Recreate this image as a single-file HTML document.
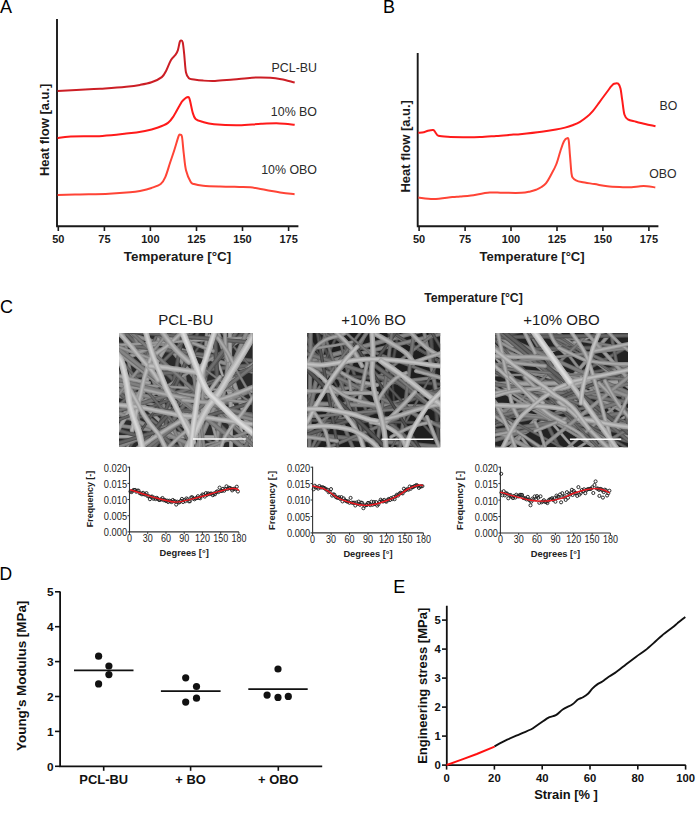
<!DOCTYPE html>
<html><head><meta charset="utf-8"><style>
html,body{margin:0;padding:0;background:#fff;}
body{width:696px;height:814px;overflow:hidden;}
svg{display:block;font-family:"Liberation Sans", sans-serif;}
</style></head><body>
<svg width="696" height="814" viewBox="0 0 696 814">
<text x="0" y="12.5" font-size="18">A</text>
<path d="M57,19 V226.3 M56.1,226.3 H298.4" stroke="#1a1a1a" stroke-width="1.9" fill="none"/>
<path d="M58.3,226.3 V231" stroke="#1a1a1a" stroke-width="1.6"/>
<text x="58.3" y="243" font-size="11" font-weight="bold" text-anchor="middle" fill="#1a1a1a">50</text>
<path d="M104.4,226.3 V231" stroke="#1a1a1a" stroke-width="1.6"/>
<text x="104.4" y="243" font-size="11" font-weight="bold" text-anchor="middle" fill="#1a1a1a">75</text>
<path d="M150.4,226.3 V231" stroke="#1a1a1a" stroke-width="1.6"/>
<text x="150.4" y="243" font-size="11" font-weight="bold" text-anchor="middle" fill="#1a1a1a">100</text>
<path d="M196.5,226.3 V231" stroke="#1a1a1a" stroke-width="1.6"/>
<text x="196.5" y="243" font-size="11" font-weight="bold" text-anchor="middle" fill="#1a1a1a">125</text>
<path d="M242.5,226.3 V231" stroke="#1a1a1a" stroke-width="1.6"/>
<text x="242.5" y="243" font-size="11" font-weight="bold" text-anchor="middle" fill="#1a1a1a">150</text>
<path d="M288.6,226.3 V231" stroke="#1a1a1a" stroke-width="1.6"/>
<text x="288.6" y="243" font-size="11" font-weight="bold" text-anchor="middle" fill="#1a1a1a">175</text>
<text x="123.8" y="261.3" font-size="13.35" font-weight="bold" fill="#1a1a1a">Temperature [°C]</text>
<text transform="translate(49.3,129.8) rotate(-90)" font-size="13" font-weight="bold" text-anchor="middle" fill="#1a1a1a">Heat flow [a.u.]</text>
<path d="M57.6,90.9 C63.6,90.6 85.9,89.5 93.8,89.1 C101.7,88.7 99.6,89.0 105.0,88.6 C110.4,88.2 120.4,87.4 126.2,86.8 C132.0,86.2 135.8,85.7 140.0,84.9 C144.2,84.2 147.9,83.6 151.5,82.3 C155.1,81.0 159.3,79.1 161.8,77.1 C164.3,75.1 164.9,73.1 166.4,70.2 C167.9,67.3 169.5,62.5 171.0,59.9 C172.5,57.3 174.4,56.3 175.6,54.7 C176.8,53.1 177.2,52.2 177.9,50.1 C178.6,48.0 179.2,43.7 179.7,42.1 C180.2,40.5 180.6,40.5 181.1,40.6 C181.6,40.7 182.3,40.2 182.8,42.6 C183.3,45.0 183.8,50.3 184.3,55.3 C184.8,60.3 185.2,68.7 186.0,72.5 C186.8,76.3 187.6,77.1 188.9,78.3 C190.2,79.5 191.6,79.0 194.0,79.4 C196.4,79.8 199.7,80.3 203.2,80.6 C206.7,80.9 210.0,81.2 215.0,81.0 C220.0,80.8 227.2,80.0 233.4,79.5 C239.6,79.0 245.7,78.0 251.9,77.7 C258.1,77.4 265.5,77.5 270.4,77.7 C275.3,78.0 277.3,78.4 281.4,79.2 C285.4,80.0 292.5,82.0 294.7,82.5" stroke="#cc1e25" stroke-width="2" fill="none"/>
<path d="M57.6,138.0 C59.8,137.7 63.3,136.8 70.8,136.4 C78.3,136.1 93.2,136.4 102.4,135.9 C111.6,135.4 119.1,134.4 126.2,133.6 C133.3,132.8 139.7,131.9 145.0,130.9 C150.3,129.9 154.2,128.8 158.0,127.5 C161.8,126.2 165.4,124.8 168.0,122.9 C170.6,121.0 171.8,118.9 173.7,116.0 C175.6,113.1 178.0,108.3 179.5,105.7 C181.0,103.1 181.5,101.9 182.9,100.5 C184.3,99.1 186.9,97.2 188.1,97.1 C189.2,97.0 189.0,97.3 189.8,99.9 C190.6,102.5 191.7,109.4 192.7,112.6 C193.7,115.8 194.0,117.4 195.6,118.9 C197.2,120.4 199.4,120.9 202.5,121.8 C205.6,122.7 207.9,123.6 214.0,124.2 C220.1,124.8 231.2,125.4 239.0,125.3 C246.8,125.2 254.3,124.1 261.1,123.8 C267.9,123.5 274.0,123.2 279.6,123.4 C285.2,123.6 292.2,124.5 294.7,124.7" stroke="#ff1a1a" stroke-width="2" fill="none"/>
<path d="M57.6,194.9 C61.3,194.8 71.4,194.7 80.0,194.5 C88.6,194.3 100.7,194.2 109.0,193.8 C117.3,193.4 124.8,192.8 130.0,192.3 C135.2,191.8 136.4,191.6 140.0,190.9 C143.6,190.2 148.1,189.2 151.5,188.0 C154.9,186.8 158.4,185.8 160.7,184.0 C163.0,182.2 163.8,180.5 165.3,177.1 C166.8,173.7 168.4,167.9 169.9,163.3 C171.4,158.7 173.1,154.0 174.5,149.5 C175.9,145.0 177.6,138.8 178.5,136.3 C179.4,133.9 179.6,134.7 180.2,134.8 C180.8,134.9 181.4,133.9 182.0,136.9 C182.6,139.9 183.0,147.4 183.7,153.0 C184.4,158.6 184.8,165.4 186.0,170.2 C187.2,175.0 189.3,179.4 190.6,181.7 C191.9,184.0 191.9,183.3 194.0,184.0 C196.1,184.7 198.9,185.3 203.2,185.7 C207.5,186.1 214.0,186.3 220.0,186.5 C226.0,186.7 234.2,186.8 239.3,186.9 C244.4,187.0 245.8,186.8 250.3,187.3 C254.8,187.8 260.8,189.1 266.1,190.0 C271.4,190.9 277.1,192.0 281.9,192.7 C286.6,193.4 292.5,194.0 294.6,194.3" stroke="#ff4436" stroke-width="2" fill="none"/>
<text x="317" y="71.8" font-size="12.4" text-anchor="end" fill="#2a2a2a">PCL-BU</text>
<text x="317" y="116" font-size="12.4" text-anchor="end" fill="#2a2a2a">10% BO</text>
<text x="317" y="174.3" font-size="12.4" text-anchor="end" fill="#2a2a2a">10% OBO</text>
<text x="382.9" y="12.5" font-size="18">B</text>
<path d="M417.7,53 V226.3 M416.8,226.3 H658.4" stroke="#1a1a1a" stroke-width="1.9" fill="none"/>
<path d="M419.1,226.3 V231" stroke="#1a1a1a" stroke-width="1.6"/>
<text x="419.1" y="243" font-size="11" font-weight="bold" text-anchor="middle" fill="#1a1a1a">50</text>
<path d="M465.1,226.3 V231" stroke="#1a1a1a" stroke-width="1.6"/>
<text x="465.1" y="243" font-size="11" font-weight="bold" text-anchor="middle" fill="#1a1a1a">75</text>
<path d="M511.0,226.3 V231" stroke="#1a1a1a" stroke-width="1.6"/>
<text x="511.0" y="243" font-size="11" font-weight="bold" text-anchor="middle" fill="#1a1a1a">100</text>
<path d="M557.0,226.3 V231" stroke="#1a1a1a" stroke-width="1.6"/>
<text x="557.0" y="243" font-size="11" font-weight="bold" text-anchor="middle" fill="#1a1a1a">125</text>
<path d="M602.9,226.3 V231" stroke="#1a1a1a" stroke-width="1.6"/>
<text x="602.9" y="243" font-size="11" font-weight="bold" text-anchor="middle" fill="#1a1a1a">150</text>
<path d="M648.9,226.3 V231" stroke="#1a1a1a" stroke-width="1.6"/>
<text x="648.9" y="243" font-size="11" font-weight="bold" text-anchor="middle" fill="#1a1a1a">175</text>
<text x="479.6" y="261.4" font-size="13.05" font-weight="bold" fill="#1a1a1a">Temperature [°C]</text>
<text transform="translate(410,146.3) rotate(-90)" font-size="13" font-weight="bold" text-anchor="middle" fill="#1a1a1a">Heat flow [a.u.]</text>
<path d="M418.3,132.8 C419.2,132.7 422.3,132.5 423.8,132.2 C425.3,131.9 425.6,131.4 427.2,131.0 C428.8,130.6 431.9,129.7 433.3,130.0 C434.8,130.3 435.0,132.2 435.9,133.1 C436.8,134.0 436.4,135.1 438.4,135.7 C440.4,136.3 443.5,136.5 447.9,136.8 C452.3,137.1 459.6,137.2 465.0,137.3 C470.4,137.4 474.8,137.3 480.0,137.1 C485.2,136.9 490.6,136.4 496.2,136.0 C501.8,135.6 509.4,134.9 513.4,134.6 C517.4,134.3 515.3,134.8 520.0,134.3 C524.7,133.8 535.6,132.6 541.6,131.8 C547.6,131.0 552.1,130.2 556.0,129.5 C559.9,128.8 562.2,128.3 565.0,127.6 C567.8,126.9 570.0,126.2 572.5,125.2 C575.0,124.2 577.6,123.2 580.0,121.8 C582.4,120.4 584.8,118.6 587.0,116.8 C589.2,115.0 591.0,113.1 593.0,110.8 C595.0,108.5 597.2,105.3 599.0,102.8 C600.8,100.3 602.5,98.0 604.0,96.0 C605.5,94.0 606.9,92.1 608.1,90.5 C609.3,88.9 610.3,87.3 611.3,86.2 C612.3,85.1 613.0,84.2 614.1,83.8 C615.2,83.4 617.1,82.8 618.2,83.6 C619.3,84.4 619.8,85.7 620.5,88.4 C621.2,91.1 621.5,95.5 622.2,99.9 C622.9,104.3 623.5,111.5 624.5,114.8 C625.5,118.0 626.0,118.2 627.9,119.4 C629.8,120.6 633.1,120.9 636.0,121.7 C638.9,122.5 642.0,123.2 645.2,124.0 C648.5,124.8 653.8,125.9 655.5,126.3" stroke="#ff1a1a" stroke-width="2" fill="none"/>
<path d="M418.3,197.6 C420.9,197.8 428.0,199.1 433.7,199.0 C439.4,198.9 448.0,197.5 452.4,197.1 C456.8,196.7 456.9,196.8 460.0,196.5 C463.1,196.2 466.1,196.2 471.0,195.5 C475.9,194.8 484.4,193.0 489.7,192.6 C495.0,192.2 497.5,192.8 502.8,192.8 C508.1,192.8 516.9,193.0 521.5,192.8 C526.1,192.6 527.8,192.0 530.3,191.5 C532.8,191.0 534.6,190.3 536.5,189.6 C538.4,188.8 539.9,188.0 541.5,187.0 C543.1,186.0 544.3,185.4 545.9,183.4 C547.5,181.4 549.3,178.0 551.0,174.8 C552.7,171.7 554.6,168.5 556.2,164.5 C557.8,160.5 559.2,154.6 560.5,150.7 C561.8,146.8 562.9,143.3 564.0,141.2 C565.1,139.1 566.2,138.3 567.0,138.2 C567.8,138.0 568.2,137.4 568.7,140.3 C569.2,143.2 569.5,150.4 570.0,155.9 C570.5,161.4 571.0,169.8 571.5,173.5 C572.0,177.2 572.2,176.9 573.0,178.0 C573.8,179.1 574.6,179.6 576.0,180.3 C577.4,181.0 578.5,181.4 581.6,182.0 C584.7,182.6 590.2,183.4 594.5,184.1 C598.8,184.8 602.7,185.8 607.4,186.3 C612.1,186.8 618.9,187.0 622.9,187.2 C626.9,187.3 628.7,187.4 631.6,187.2 C634.5,187.0 637.6,186.4 640.2,186.2 C642.8,186.0 644.5,186.0 647.0,186.2 C649.5,186.4 653.9,187.2 655.3,187.4" stroke="#ff4436" stroke-width="2" fill="none"/>
<text x="659.5" y="109.7" font-size="12.3" fill="#2a2a2a">BO</text>
<text x="649.3" y="177.6" font-size="12.3" fill="#2a2a2a">OBO</text>
<text x="424.2" y="301.9" font-size="12.25" font-weight="bold" fill="#1a1a1a">Temperature [°C]</text>
<text x="0" y="312.8" font-size="18">C</text>
<text x="185.8" y="324.8" font-size="15" text-anchor="middle" fill="#1a1a1a">PCL-BU</text>
<rect x="119" y="333" width="133.7" height="114.0" fill="#6a6a6a"/>
<text x="373.6" y="324.8" font-size="15" text-anchor="middle" fill="#1a1a1a">+10% BO</text>
<rect x="307.1" y="333" width="133.1" height="114.2" fill="#6a6a6a"/>
<text x="561.5" y="324.8" font-size="15" text-anchor="middle" fill="#1a1a1a">+10% OBO</text>
<rect x="495.1" y="333" width="132.9" height="114.2" fill="#6a6a6a"/>
<filter id="semblur" x="-5%" y="-5%" width="110%" height="110%"><feGaussianBlur stdDeviation="0.7"/></filter>
<clipPath id="semclip1"><rect x="119" y="333" width="133.7" height="114.0"/></clipPath>
<g clip-path="url(#semclip1)">
<rect x="119" y="333" width="133.7" height="114.0" fill="#2a2a2a"/>
<g filter="url(#semblur)" stroke-linecap="round" fill="none">
<path d="M164.0,240.6 L223.7,636.1" stroke="#6c6c6c" stroke-width="3.5"/>
<path d="M164.0,240.6 L223.7,636.1" stroke="#828282" stroke-width="1.8"/>
<path d="M197.9,198.8 L89.5,583.9" stroke="#838383" stroke-width="3.9"/>
<path d="M197.9,198.8 L89.5,583.9" stroke="#999999" stroke-width="2.0"/>
<path d="M-31.8,285.1 L350.9,401.6" stroke="#7b7b7b" stroke-width="4.3"/>
<path d="M-31.8,285.1 L350.9,401.6" stroke="#919191" stroke-width="2.3"/>
<path d="M52.0,416.7 L448.6,469.2" stroke="#757575" stroke-width="3.9"/>
<path d="M52.0,416.7 L448.6,469.2" stroke="#8b8b8b" stroke-width="2.1"/>
<path d="M-55.0,298.3 L297.0,488.2" stroke="#535353" stroke-width="2.6"/>
<path d="M-55.0,298.3 L297.0,488.2" stroke="#696969" stroke-width="1.3"/>
<path d="M-21.9,248.1 L268.0,523.7" stroke="#878787" stroke-width="3.5"/>
<path d="M-21.9,248.1 L268.0,523.7" stroke="#9d9d9d" stroke-width="1.8"/>
<path d="M216.6,190.3 L192.6,589.6" stroke="#686868" stroke-width="4.0"/>
<path d="M216.6,190.3 L192.6,589.6" stroke="#7e7e7e" stroke-width="2.1"/>
<path d="M124.0,293.1 L380.8,599.9" stroke="#7c7c7c" stroke-width="4.3"/>
<path d="M124.0,293.1 L380.8,599.9" stroke="#929292" stroke-width="2.3"/>
<path d="M40.0,198.7 L259.4,533.2" stroke="#818181" stroke-width="2.7"/>
<path d="M40.0,198.7 L259.4,533.2" stroke="#979797" stroke-width="1.3"/>
<path d="M170.6,186.8 L293.8,567.4" stroke="#878787" stroke-width="4.6"/>
<path d="M170.6,186.8 L293.8,567.4" stroke="#9d9d9d" stroke-width="2.5"/>
<path d="M-53.0,436.4 L347.0,437.1" stroke="#929292" stroke-width="3.5"/>
<path d="M-53.0,436.4 L347.0,437.1" stroke="#a8a8a8" stroke-width="1.8"/>
<path d="M65.4,215.1 L192.1,594.5" stroke="#595959" stroke-width="4.2"/>
<path d="M65.4,215.1 L192.1,594.5" stroke="#6f6f6f" stroke-width="2.2"/>
<path d="M-29.1,388.8 L356.0,497.0" stroke="#4d4d4d" stroke-width="4.2"/>
<path d="M-29.1,388.8 L356.0,497.0" stroke="#636363" stroke-width="2.2"/>
<path d="M-10.5,200.0 L275.5,479.6" stroke="#525252" stroke-width="4.3"/>
<path d="M-10.5,200.0 L275.5,479.6" stroke="#686868" stroke-width="2.3"/>
<path d="M215.9,158.2 L141.8,551.3" stroke="#4e4e4e" stroke-width="4.1"/>
<path d="M215.9,158.2 L141.8,551.3" stroke="#646464" stroke-width="2.2"/>
<path d="M221.8,201.0 L47.3,560.9" stroke="#595959" stroke-width="3.0"/>
<path d="M221.8,201.0 L47.3,560.9" stroke="#6f6f6f" stroke-width="1.5"/>
<path d="M425.6,349.4 L27.2,385.9" stroke="#545454" stroke-width="4.4"/>
<path d="M425.6,349.4 L27.2,385.9" stroke="#6a6a6a" stroke-width="2.4"/>
<path d="M168.0,217.1 L298.4,595.2" stroke="#939393" stroke-width="2.7"/>
<path d="M168.0,217.1 L298.4,595.2" stroke="#a9a9a9" stroke-width="1.3"/>
<path d="M-3.2,296.9 L310.3,545.3" stroke="#5b5b5b" stroke-width="3.2"/>
<path d="M-3.2,296.9 L310.3,545.3" stroke="#717171" stroke-width="1.6"/>
<path d="M-63.7,353.7 L325.8,445.1" stroke="#747474" stroke-width="3.0"/>
<path d="M-63.7,353.7 L325.8,445.1" stroke="#8a8a8a" stroke-width="1.5"/>
<path d="M101.1,258.4 L258.0,626.3" stroke="#717171" stroke-width="3.6"/>
<path d="M101.1,258.4 L258.0,626.3" stroke="#878787" stroke-width="1.8"/>
<path d="M326.1,269.1 L-39.2,432.0" stroke="#858585" stroke-width="4.5"/>
<path d="M326.1,269.1 L-39.2,432.0" stroke="#9b9b9b" stroke-width="2.4"/>
<path d="M2.7,276.1 L286.0,558.5" stroke="#535353" stroke-width="4.6"/>
<path d="M2.7,276.1 L286.0,558.5" stroke="#696969" stroke-width="2.4"/>
<path d="M434.5,370.6 L39.4,433.0" stroke="#4c4c4c" stroke-width="3.4"/>
<path d="M434.5,370.6 L39.4,433.0" stroke="#626262" stroke-width="1.8"/>
<path d="M49.2,335.9 L446.2,384.4" stroke="#585858" stroke-width="4.1"/>
<path d="M49.2,335.9 L446.2,384.4" stroke="#6e6e6e" stroke-width="2.1"/>
<path d="M368.9,261.3 L28.6,471.6" stroke="#7d7d7d" stroke-width="2.9"/>
<path d="M368.9,261.3 L28.6,471.6" stroke="#939393" stroke-width="1.4"/>
<path d="M-45.8,353.9 L344.9,439.6" stroke="#757575" stroke-width="4.4"/>
<path d="M-45.8,353.9 L344.9,439.6" stroke="#8b8b8b" stroke-width="2.3"/>
<path d="M114.3,202.1 L369.0,510.4" stroke="#595959" stroke-width="2.5"/>
<path d="M114.3,202.1 L369.0,510.4" stroke="#6f6f6f" stroke-width="1.2"/>
<path d="M93.1,156.0 L161.0,550.2" stroke="#717171" stroke-width="3.3"/>
<path d="M93.1,156.0 L161.0,550.2" stroke="#878787" stroke-width="1.7"/>
<path d="M-15.7,354.2 L350.6,514.9" stroke="#787878" stroke-width="4.7"/>
<path d="M-15.7,354.2 L350.6,514.9" stroke="#8e8e8e" stroke-width="2.5"/>
<path d="M310.2,184.0 L84.1,514.0" stroke="#454545" stroke-width="2.6"/>
<path d="M310.2,184.0 L84.1,514.0" stroke="#5b5b5b" stroke-width="1.2"/>
<path d="M404.8,387.1 L20.6,498.4" stroke="#767676" stroke-width="2.5"/>
<path d="M404.8,387.1 L20.6,498.4" stroke="#8c8c8c" stroke-width="1.2"/>
<path d="M205.5,169.7 L227.8,569.0" stroke="#4a4a4a" stroke-width="4.7"/>
<path d="M205.5,169.7 L227.8,569.0" stroke="#606060" stroke-width="2.5"/>
<path d="M246.4,237.7 L188.7,633.5" stroke="#7c7c7c" stroke-width="4.1"/>
<path d="M246.4,237.7 L188.7,633.5" stroke="#929292" stroke-width="2.2"/>
<path d="M400.6,252.2 L82.1,494.1" stroke="#8c8c8c" stroke-width="4.0"/>
<path d="M400.6,252.2 L82.1,494.1" stroke="#a2a2a2" stroke-width="2.1"/>
<path d="M358.6,344.3 L-9.1,501.9" stroke="#717171" stroke-width="4.4"/>
<path d="M358.6,344.3 L-9.1,501.9" stroke="#878787" stroke-width="2.3"/>
<path d="M246.6,214.6 L93.6,584.2" stroke="#4a4a4a" stroke-width="3.8"/>
<path d="M246.6,214.6 L93.6,584.2" stroke="#606060" stroke-width="2.0"/>
<path d="M336.6,252.2 L167.0,614.4" stroke="#636363" stroke-width="4.1"/>
<path d="M336.6,252.2 L167.0,614.4" stroke="#797979" stroke-width="2.2"/>
<path d="M331.3,235.3 L62.1,531.1" stroke="#4a4a4a" stroke-width="4.3"/>
<path d="M331.3,235.3 L62.1,531.1" stroke="#606060" stroke-width="2.3"/>
<path d="M264.5,260.2 L-18.5,542.9" stroke="#565656" stroke-width="3.6"/>
<path d="M264.5,260.2 L-18.5,542.9" stroke="#6c6c6c" stroke-width="1.8"/>
<path d="M302.2,240.6 L68.8,565.5" stroke="#585858" stroke-width="4.5"/>
<path d="M302.2,240.6 L68.8,565.5" stroke="#6e6e6e" stroke-width="2.4"/>
<path d="M-40.6,403.2 L359.1,417.4" stroke="#515151" stroke-width="2.9"/>
<path d="M-40.6,403.2 L359.1,417.4" stroke="#676767" stroke-width="1.5"/>
<path d="M398.5,325.0 L15.9,441.8" stroke="#5e5e5e" stroke-width="4.5"/>
<path d="M398.5,325.0 L15.9,441.8" stroke="#747474" stroke-width="2.4"/>
<path d="M245.1,208.7 L46.0,555.6" stroke="#8d8d8d" stroke-width="4.3"/>
<path d="M245.1,208.7 L46.0,555.6" stroke="#a3a3a3" stroke-width="2.3"/>
<path d="M356.4,326.0 L-15.6,472.9" stroke="#4e4e4e" stroke-width="3.2"/>
<path d="M356.4,326.0 L-15.6,472.9" stroke="#646464" stroke-width="1.6"/>
<path d="M228.7,229.8 L233.1,629.7" stroke="#909090" stroke-width="4.1"/>
<path d="M228.7,229.8 L233.1,629.7" stroke="#a6a6a6" stroke-width="2.1"/>
<path d="M12.6,231.6 L270.6,537.2" stroke="#555555" stroke-width="3.1"/>
<path d="M12.6,231.6 L270.6,537.2" stroke="#6b6b6b" stroke-width="1.6"/>
<path d="M149.3,196.6 L256.1,582.0" stroke="#878787" stroke-width="3.2"/>
<path d="M149.3,196.6 L256.1,582.0" stroke="#9d9d9d" stroke-width="1.6"/>
<path d="M379.2,330.2 L-20.2,352.8" stroke="#898989" stroke-width="2.6"/>
<path d="M379.2,330.2 L-20.2,352.8" stroke="#9f9f9f" stroke-width="1.2"/>
<path d="M15.4,372.1 L412.0,424.0" stroke="#838383" stroke-width="3.2"/>
<path d="M15.4,372.1 L412.0,424.0" stroke="#999999" stroke-width="1.6"/>
<path d="M-62.5,372.8 L336.8,396.9" stroke="#868686" stroke-width="2.6"/>
<path d="M-62.5,372.8 L336.8,396.9" stroke="#9c9c9c" stroke-width="1.2"/>
<path d="M-9.1,202.6 L284.7,474.1" stroke="#676767" stroke-width="3.9"/>
<path d="M-9.1,202.6 L284.7,474.1" stroke="#7d7d7d" stroke-width="2.0"/>
<path d="M286.0,241.5 L127.2,608.6" stroke="#7a7a7a" stroke-width="4.6"/>
<path d="M286.0,241.5 L127.2,608.6" stroke="#909090" stroke-width="2.5"/>
<path d="M20.5,236.1 L344.6,470.6" stroke="#696969" stroke-width="2.5"/>
<path d="M20.5,236.1 L344.6,470.6" stroke="#7f7f7f" stroke-width="1.2"/>
<path d="M267.6,207.6 L18.3,520.5" stroke="#7b7b7b" stroke-width="3.3"/>
<path d="M267.6,207.6 L18.3,520.5" stroke="#919191" stroke-width="1.7"/>
<path d="M214.0,219.6 L188.3,618.8" stroke="#838383" stroke-width="3.4"/>
<path d="M214.0,219.6 L188.3,618.8" stroke="#999999" stroke-width="1.7"/>
<path d="M322.0,381.3 L-60.7,497.4" stroke="#4e4e4e" stroke-width="4.1"/>
<path d="M322.0,381.3 L-60.7,497.4" stroke="#646464" stroke-width="2.2"/>
<path d="M173.5,238.9 L231.7,634.6" stroke="#717171" stroke-width="3.3"/>
<path d="M173.5,238.9 L231.7,634.6" stroke="#878787" stroke-width="1.7"/>
<path d="M411.3,366.6 L39.7,514.7" stroke="#787878" stroke-width="3.5"/>
<path d="M411.3,366.6 L39.7,514.7" stroke="#8e8e8e" stroke-width="1.8"/>
<path d="M55.5,306.3 L375.5,546.3" stroke="#7d7d7d" stroke-width="3.9"/>
<path d="M55.5,306.3 L375.5,546.3" stroke="#939393" stroke-width="2.0"/>
<path d="M82.6,320.6 L396.1,569.0" stroke="#6e6e6e" stroke-width="4.7"/>
<path d="M82.6,320.6 L396.1,569.0" stroke="#848484" stroke-width="2.5"/>
<path d="M320.2,314.5 L3.5,558.9" stroke="#5f5f5f" stroke-width="4.4"/>
<path d="M320.2,314.5 L3.5,558.9" stroke="#757575" stroke-width="2.3"/>
<path d="M-15.3,344.3 L371.2,447.2" stroke="#6a6a6a" stroke-width="4.2"/>
<path d="M-15.3,344.3 L371.2,447.2" stroke="#808080" stroke-width="2.2"/>
<path d="M28.0,322.5 L426.4,358.1" stroke="#515151" stroke-width="4.3"/>
<path d="M28.0,322.5 L426.4,358.1" stroke="#676767" stroke-width="2.3"/>
<path d="M125.3,175.3 L323.4,522.7" stroke="#6d6d6d" stroke-width="2.8"/>
<path d="M125.3,175.3 L323.4,522.7" stroke="#838383" stroke-width="1.4"/>
<path d="M114.6,345.0 C115.8,345.5 119.1,346.8 122.0,348.0 C124.9,349.2 128.3,350.7 132.0,352.0 C135.7,353.3 140.7,354.8 144.0,356.0 C147.3,357.2 150.7,358.5 152.0,359.0" stroke="#7b7b7b" stroke-width="3.6"/>
<path d="M114.6,345.0 C115.8,345.5 119.1,346.8 122.0,348.0 C124.9,349.2 128.3,350.7 132.0,352.0 C135.7,353.3 140.7,354.8 144.0,356.0 C147.3,357.2 150.7,358.5 152.0,359.0" stroke="#8f8f8f" stroke-width="2.1"/>
<path d="M114.6,345.0 C115.8,345.5 119.1,346.8 122.0,348.0 C124.9,349.2 128.3,350.7 132.0,352.0 C135.7,353.3 140.7,354.8 144.0,356.0 C147.3,357.2 150.7,358.5 152.0,359.0" stroke="#9e9e9e" stroke-width="0.9"/>
<path d="M193.0,343.0 C195.5,344.0 204.7,347.7 208.0,349.0 C211.3,350.3 212.2,350.7 213.0,351.0" stroke="#7d7d7d" stroke-width="4.1"/>
<path d="M193.0,343.0 C195.5,344.0 204.7,347.7 208.0,349.0 C211.3,350.3 212.2,350.7 213.0,351.0" stroke="#919191" stroke-width="2.4"/>
<path d="M193.0,343.0 C195.5,344.0 204.7,347.7 208.0,349.0 C211.3,350.3 212.2,350.7 213.0,351.0" stroke="#a0a0a0" stroke-width="1.1"/>
<path d="M224.6,325.0 C224.7,326.3 224.8,328.3 225.0,333.0 C225.2,337.7 225.5,348.3 226.0,353.0 C226.5,357.7 227.7,359.7 228.0,361.0" stroke="#858585" stroke-width="4.1"/>
<path d="M224.6,325.0 C224.7,326.3 224.8,328.3 225.0,333.0 C225.2,337.7 225.5,348.3 226.0,353.0 C226.5,357.7 227.7,359.7 228.0,361.0" stroke="#999999" stroke-width="2.4"/>
<path d="M224.6,325.0 C224.7,326.3 224.8,328.3 225.0,333.0 C225.2,337.7 225.5,348.3 226.0,353.0 C226.5,357.7 227.7,359.7 228.0,361.0" stroke="#a8a8a8" stroke-width="1.1"/>
<path d="M111.3,373.9 C112.6,374.3 115.2,375.0 119.0,376.0 C122.8,377.0 129.0,378.8 134.0,380.0 C139.0,381.2 146.5,382.5 149.0,383.0" stroke="#858585" stroke-width="4.1"/>
<path d="M111.3,373.9 C112.6,374.3 115.2,375.0 119.0,376.0 C122.8,377.0 129.0,378.8 134.0,380.0 C139.0,381.2 146.5,382.5 149.0,383.0" stroke="#999999" stroke-width="2.4"/>
<path d="M111.3,373.9 C112.6,374.3 115.2,375.0 119.0,376.0 C122.8,377.0 129.0,378.8 134.0,380.0 C139.0,381.2 146.5,382.5 149.0,383.0" stroke="#a8a8a8" stroke-width="1.1"/>
<path d="M142.0,389.0 C144.8,389.7 152.8,391.7 159.0,393.0 C165.2,394.3 174.0,396.0 179.0,397.0 C184.0,398.0 187.3,398.7 189.0,399.0" stroke="#898989" stroke-width="4.6"/>
<path d="M142.0,389.0 C144.8,389.7 152.8,391.7 159.0,393.0 C165.2,394.3 174.0,396.0 179.0,397.0 C184.0,398.0 187.3,398.7 189.0,399.0" stroke="#9d9d9d" stroke-width="2.8"/>
<path d="M142.0,389.0 C144.8,389.7 152.8,391.7 159.0,393.0 C165.2,394.3 174.0,396.0 179.0,397.0 C184.0,398.0 187.3,398.7 189.0,399.0" stroke="#acacac" stroke-width="1.2"/>
<path d="M163.3,452.7 C164.3,451.7 166.4,449.6 169.0,447.0 C171.6,444.4 175.7,440.0 179.0,437.0 C182.3,434.0 187.3,430.3 189.0,429.0" stroke="#898989" stroke-width="4.1"/>
<path d="M163.3,452.7 C164.3,451.7 166.4,449.6 169.0,447.0 C171.6,444.4 175.7,440.0 179.0,437.0 C182.3,434.0 187.3,430.3 189.0,429.0" stroke="#9d9d9d" stroke-width="2.4"/>
<path d="M163.3,452.7 C164.3,451.7 166.4,449.6 169.0,447.0 C171.6,444.4 175.7,440.0 179.0,437.0 C182.3,434.0 187.3,430.3 189.0,429.0" stroke="#acacac" stroke-width="1.1"/>
<path d="M218.0,338.0 C219.7,340.5 225.5,348.8 228.0,353.0 C230.5,357.2 232.2,361.3 233.0,363.0" stroke="#898989" stroke-width="4.6"/>
<path d="M218.0,338.0 C219.7,340.5 225.5,348.8 228.0,353.0 C230.5,357.2 232.2,361.3 233.0,363.0" stroke="#9d9d9d" stroke-width="2.8"/>
<path d="M218.0,338.0 C219.7,340.5 225.5,348.8 228.0,353.0 C230.5,357.2 232.2,361.3 233.0,363.0" stroke="#acacac" stroke-width="1.2"/>
<path d="M183.0,400.0 C186.3,400.3 196.3,401.5 203.0,402.0 C209.7,402.5 219.7,402.8 223.0,403.0" stroke="#898989" stroke-width="4.6"/>
<path d="M183.0,400.0 C186.3,400.3 196.3,401.5 203.0,402.0 C209.7,402.5 219.7,402.8 223.0,403.0" stroke="#9d9d9d" stroke-width="2.8"/>
<path d="M183.0,400.0 C186.3,400.3 196.3,401.5 203.0,402.0 C209.7,402.5 219.7,402.8 223.0,403.0" stroke="#acacac" stroke-width="1.2"/>
<path d="M157.0,353.0 C158.7,351.8 164.0,348.3 167.0,346.0 C170.0,343.7 172.7,341.2 175.0,339.0 C177.3,336.8 179.1,334.9 181.0,333.0 C182.9,331.1 185.7,328.3 186.7,327.3" stroke="#8f8f8f" stroke-width="4.6"/>
<path d="M157.0,353.0 C158.7,351.8 164.0,348.3 167.0,346.0 C170.0,343.7 172.7,341.2 175.0,339.0 C177.3,336.8 179.1,334.9 181.0,333.0 C182.9,331.1 185.7,328.3 186.7,327.3" stroke="#a3a3a3" stroke-width="2.8"/>
<path d="M157.0,353.0 C158.7,351.8 164.0,348.3 167.0,346.0 C170.0,343.7 172.7,341.2 175.0,339.0 C177.3,336.8 179.1,334.9 181.0,333.0 C182.9,331.1 185.7,328.3 186.7,327.3" stroke="#b2b2b2" stroke-width="1.2"/>
<path d="M257.4,390.3 C256.7,391.5 255.4,393.4 253.0,397.0 C250.6,400.6 246.3,407.3 243.0,412.0 C239.7,416.7 236.0,420.8 233.0,425.0 C230.0,429.2 227.0,433.3 225.0,437.0 C223.0,440.7 222.2,444.1 221.0,447.0 C219.8,449.9 218.5,453.2 218.0,454.4" stroke="#8f8f8f" stroke-width="4.1"/>
<path d="M257.4,390.3 C256.7,391.5 255.4,393.4 253.0,397.0 C250.6,400.6 246.3,407.3 243.0,412.0 C239.7,416.7 236.0,420.8 233.0,425.0 C230.0,429.2 227.0,433.3 225.0,437.0 C223.0,440.7 222.2,444.1 221.0,447.0 C219.8,449.9 218.5,453.2 218.0,454.4" stroke="#a3a3a3" stroke-width="2.4"/>
<path d="M257.4,390.3 C256.7,391.5 255.4,393.4 253.0,397.0 C250.6,400.6 246.3,407.3 243.0,412.0 C239.7,416.7 236.0,420.8 233.0,425.0 C230.0,429.2 227.0,433.3 225.0,437.0 C223.0,440.7 222.2,444.1 221.0,447.0 C219.8,449.9 218.5,453.2 218.0,454.4" stroke="#b2b2b2" stroke-width="1.1"/>
<path d="M208.0,394.0 C209.3,392.0 214.0,384.8 216.0,382.0 C218.0,379.2 219.3,377.8 220.0,377.0" stroke="#8f8f8f" stroke-width="4.1"/>
<path d="M208.0,394.0 C209.3,392.0 214.0,384.8 216.0,382.0 C218.0,379.2 219.3,377.8 220.0,377.0" stroke="#a3a3a3" stroke-width="2.4"/>
<path d="M208.0,394.0 C209.3,392.0 214.0,384.8 216.0,382.0 C218.0,379.2 219.3,377.8 220.0,377.0" stroke="#b2b2b2" stroke-width="1.1"/>
<path d="M218.0,400.0 C220.5,399.2 227.2,397.2 233.0,395.0 C238.8,392.8 248.4,388.8 253.0,387.0 C257.6,385.2 259.2,384.5 260.4,384.0" stroke="#919191" stroke-width="4.6"/>
<path d="M218.0,400.0 C220.5,399.2 227.2,397.2 233.0,395.0 C238.8,392.8 248.4,388.8 253.0,387.0 C257.6,385.2 259.2,384.5 260.4,384.0" stroke="#a5a5a5" stroke-width="2.8"/>
<path d="M218.0,400.0 C220.5,399.2 227.2,397.2 233.0,395.0 C238.8,392.8 248.4,388.8 253.0,387.0 C257.6,385.2 259.2,384.5 260.4,384.0" stroke="#b4b4b4" stroke-width="1.2"/>
<path d="M158.2,326.6 C159.0,327.7 160.7,329.9 163.0,333.0 C165.3,336.1 169.3,341.7 172.0,345.0 C174.7,348.3 176.2,350.2 179.0,353.0 C181.8,355.8 187.3,360.5 189.0,362.0" stroke="#939393" stroke-width="5.6"/>
<path d="M158.2,326.6 C159.0,327.7 160.7,329.9 163.0,333.0 C165.3,336.1 169.3,341.7 172.0,345.0 C174.7,348.3 176.2,350.2 179.0,353.0 C181.8,355.8 187.3,360.5 189.0,362.0" stroke="#a7a7a7" stroke-width="3.5"/>
<path d="M158.2,326.6 C159.0,327.7 160.7,329.9 163.0,333.0 C165.3,336.1 169.3,341.7 172.0,345.0 C174.7,348.3 176.2,350.2 179.0,353.0 C181.8,355.8 187.3,360.5 189.0,362.0" stroke="#b6b6b6" stroke-width="1.5"/>
<path d="M189.0,417.0 C186.5,418.3 178.7,422.3 174.0,425.0 C169.3,427.7 165.2,430.3 161.0,433.0 C156.8,435.7 152.5,438.7 149.0,441.0 C145.5,443.3 142.6,445.3 140.0,447.0 C137.4,448.7 134.5,450.7 133.3,451.4" stroke="#939393" stroke-width="4.6"/>
<path d="M189.0,417.0 C186.5,418.3 178.7,422.3 174.0,425.0 C169.3,427.7 165.2,430.3 161.0,433.0 C156.8,435.7 152.5,438.7 149.0,441.0 C145.5,443.3 142.6,445.3 140.0,447.0 C137.4,448.7 134.5,450.7 133.3,451.4" stroke="#a7a7a7" stroke-width="2.8"/>
<path d="M189.0,417.0 C186.5,418.3 178.7,422.3 174.0,425.0 C169.3,427.7 165.2,430.3 161.0,433.0 C156.8,435.7 152.5,438.7 149.0,441.0 C145.5,443.3 142.6,445.3 140.0,447.0 C137.4,448.7 134.5,450.7 133.3,451.4" stroke="#b6b6b6" stroke-width="1.2"/>
<path d="M183.0,415.0 C184.0,417.0 187.3,423.3 189.0,427.0 C190.7,430.7 192.3,435.3 193.0,437.0" stroke="#969696" stroke-width="4.6"/>
<path d="M183.0,415.0 C184.0,417.0 187.3,423.3 189.0,427.0 C190.7,430.7 192.3,435.3 193.0,437.0" stroke="#aaaaaa" stroke-width="2.8"/>
<path d="M183.0,415.0 C184.0,417.0 187.3,423.3 189.0,427.0 C190.7,430.7 192.3,435.3 193.0,437.0" stroke="#b9b9b9" stroke-width="1.2"/>
<path d="M151.0,358.0 C150.7,358.8 150.2,359.5 149.0,363.0 C147.8,366.5 145.3,374.0 144.0,379.0 C142.7,384.0 142.0,388.7 141.0,393.0 C140.0,397.3 139.0,400.8 138.0,405.0 C137.0,409.2 136.0,413.8 135.0,418.0 C134.0,422.2 132.5,428.0 132.0,430.0" stroke="#999999" stroke-width="4.6"/>
<path d="M151.0,358.0 C150.7,358.8 150.2,359.5 149.0,363.0 C147.8,366.5 145.3,374.0 144.0,379.0 C142.7,384.0 142.0,388.7 141.0,393.0 C140.0,397.3 139.0,400.8 138.0,405.0 C137.0,409.2 136.0,413.8 135.0,418.0 C134.0,422.2 132.5,428.0 132.0,430.0" stroke="#adadad" stroke-width="2.8"/>
<path d="M151.0,358.0 C150.7,358.8 150.2,359.5 149.0,363.0 C147.8,366.5 145.3,374.0 144.0,379.0 C142.7,384.0 142.0,388.7 141.0,393.0 C140.0,397.3 139.0,400.8 138.0,405.0 C137.0,409.2 136.0,413.8 135.0,418.0 C134.0,422.2 132.5,428.0 132.0,430.0" stroke="#bcbcbc" stroke-width="1.2"/>
<path d="M111.0,404.2 C112.4,404.3 114.3,404.5 119.0,405.0 C123.7,405.5 132.3,406.0 139.0,407.0 C145.7,408.0 152.3,409.7 159.0,411.0 C165.7,412.3 174.0,414.2 179.0,415.0 C184.0,415.8 185.0,415.7 189.0,416.0 C193.0,416.3 197.3,416.3 203.0,417.0 C208.7,417.7 216.3,419.0 223.0,420.0 C229.7,421.0 238.0,422.3 243.0,423.0 C248.0,423.7 250.0,423.7 253.0,424.0 C256.0,424.3 259.6,424.7 261.0,424.8" stroke="#999999" stroke-width="5.1"/>
<path d="M111.0,404.2 C112.4,404.3 114.3,404.5 119.0,405.0 C123.7,405.5 132.3,406.0 139.0,407.0 C145.7,408.0 152.3,409.7 159.0,411.0 C165.7,412.3 174.0,414.2 179.0,415.0 C184.0,415.8 185.0,415.7 189.0,416.0 C193.0,416.3 197.3,416.3 203.0,417.0 C208.7,417.7 216.3,419.0 223.0,420.0 C229.7,421.0 238.0,422.3 243.0,423.0 C248.0,423.7 250.0,423.7 253.0,424.0 C256.0,424.3 259.6,424.7 261.0,424.8" stroke="#adadad" stroke-width="3.1"/>
<path d="M111.0,404.2 C112.4,404.3 114.3,404.5 119.0,405.0 C123.7,405.5 132.3,406.0 139.0,407.0 C145.7,408.0 152.3,409.7 159.0,411.0 C165.7,412.3 174.0,414.2 179.0,415.0 C184.0,415.8 185.0,415.7 189.0,416.0 C193.0,416.3 197.3,416.3 203.0,417.0 C208.7,417.7 216.3,419.0 223.0,420.0 C229.7,421.0 238.0,422.3 243.0,423.0 C248.0,423.7 250.0,423.7 253.0,424.0 C256.0,424.3 259.6,424.7 261.0,424.8" stroke="#bcbcbc" stroke-width="1.3"/>
<path d="M113.3,327.3 C114.3,328.3 117.4,331.4 119.0,333.0 C120.6,334.6 121.0,334.8 123.0,337.0 C125.0,339.2 128.3,342.8 131.0,346.0 C133.7,349.2 136.7,353.2 139.0,356.0 C141.3,358.8 142.8,360.5 145.0,363.0 C147.2,365.5 149.8,368.2 152.0,371.0 C154.2,373.8 157.0,378.5 158.0,380.0" stroke="#9b9b9b" stroke-width="5.1"/>
<path d="M113.3,327.3 C114.3,328.3 117.4,331.4 119.0,333.0 C120.6,334.6 121.0,334.8 123.0,337.0 C125.0,339.2 128.3,342.8 131.0,346.0 C133.7,349.2 136.7,353.2 139.0,356.0 C141.3,358.8 142.8,360.5 145.0,363.0 C147.2,365.5 149.8,368.2 152.0,371.0 C154.2,373.8 157.0,378.5 158.0,380.0" stroke="#afafaf" stroke-width="3.1"/>
<path d="M113.3,327.3 C114.3,328.3 117.4,331.4 119.0,333.0 C120.6,334.6 121.0,334.8 123.0,337.0 C125.0,339.2 128.3,342.8 131.0,346.0 C133.7,349.2 136.7,353.2 139.0,356.0 C141.3,358.8 142.8,360.5 145.0,363.0 C147.2,365.5 149.8,368.2 152.0,371.0 C154.2,373.8 157.0,378.5 158.0,380.0" stroke="#bebebe" stroke-width="1.3"/>
<path d="M130.0,390.0 C131.2,392.0 134.7,397.8 137.0,402.0 C139.3,406.2 141.7,411.2 144.0,415.0 C146.3,418.8 148.5,421.7 151.0,425.0 C153.5,428.3 156.7,431.3 159.0,435.0 C161.3,438.7 163.4,443.8 165.0,447.0 C166.6,450.2 168.0,453.0 168.6,454.2" stroke="#9b9b9b" stroke-width="4.8"/>
<path d="M130.0,390.0 C131.2,392.0 134.7,397.8 137.0,402.0 C139.3,406.2 141.7,411.2 144.0,415.0 C146.3,418.8 148.5,421.7 151.0,425.0 C153.5,428.3 156.7,431.3 159.0,435.0 C161.3,438.7 163.4,443.8 165.0,447.0 C166.6,450.2 168.0,453.0 168.6,454.2" stroke="#afafaf" stroke-width="2.9"/>
<path d="M130.0,390.0 C131.2,392.0 134.7,397.8 137.0,402.0 C139.3,406.2 141.7,411.2 144.0,415.0 C146.3,418.8 148.5,421.7 151.0,425.0 C153.5,428.3 156.7,431.3 159.0,435.0 C161.3,438.7 163.4,443.8 165.0,447.0 C166.6,450.2 168.0,453.0 168.6,454.2" stroke="#bebebe" stroke-width="1.3"/>
<path d="M150.0,366.0 C151.8,366.2 156.8,366.5 161.0,367.0 C165.2,367.5 170.3,368.3 175.0,369.0 C179.7,369.7 184.8,370.3 189.0,371.0 C193.2,371.7 198.2,372.7 200.0,373.0" stroke="#9d9d9d" stroke-width="5.4"/>
<path d="M150.0,366.0 C151.8,366.2 156.8,366.5 161.0,367.0 C165.2,367.5 170.3,368.3 175.0,369.0 C179.7,369.7 184.8,370.3 189.0,371.0 C193.2,371.7 198.2,372.7 200.0,373.0" stroke="#b1b1b1" stroke-width="3.4"/>
<path d="M150.0,366.0 C151.8,366.2 156.8,366.5 161.0,367.0 C165.2,367.5 170.3,368.3 175.0,369.0 C179.7,369.7 184.8,370.3 189.0,371.0 C193.2,371.7 198.2,372.7 200.0,373.0" stroke="#c0c0c0" stroke-width="1.4"/>
<path d="M257.1,329.1 C256.4,330.3 255.3,332.0 253.0,336.0 C250.7,340.0 246.0,348.0 243.0,353.0 C240.0,358.0 237.7,361.7 235.0,366.0 C232.3,370.3 229.8,374.3 227.0,379.0 C224.2,383.7 221.2,389.3 218.0,394.0 C214.8,398.7 211.0,402.3 208.0,407.0 C205.0,411.7 202.5,417.0 200.0,422.0 C197.5,427.0 195.0,432.8 193.0,437.0 C191.0,441.2 189.4,444.1 188.0,447.0 C186.6,449.9 185.0,453.0 184.4,454.2" stroke="#aaaaaa" stroke-width="7.1"/>
<path d="M257.1,329.1 C256.4,330.3 255.3,332.0 253.0,336.0 C250.7,340.0 246.0,348.0 243.0,353.0 C240.0,358.0 237.7,361.7 235.0,366.0 C232.3,370.3 229.8,374.3 227.0,379.0 C224.2,383.7 221.2,389.3 218.0,394.0 C214.8,398.7 211.0,402.3 208.0,407.0 C205.0,411.7 202.5,417.0 200.0,422.0 C197.5,427.0 195.0,432.8 193.0,437.0 C191.0,441.2 189.4,444.1 188.0,447.0 C186.6,449.9 185.0,453.0 184.4,454.2" stroke="#bebebe" stroke-width="4.5"/>
<path d="M257.1,329.1 C256.4,330.3 255.3,332.0 253.0,336.0 C250.7,340.0 246.0,348.0 243.0,353.0 C240.0,358.0 237.7,361.7 235.0,366.0 C232.3,370.3 229.8,374.3 227.0,379.0 C224.2,383.7 221.2,389.3 218.0,394.0 C214.8,398.7 211.0,402.3 208.0,407.0 C205.0,411.7 202.5,417.0 200.0,422.0 C197.5,427.0 195.0,432.8 193.0,437.0 C191.0,441.2 189.4,444.1 188.0,447.0 C186.6,449.9 185.0,453.0 184.4,454.2" stroke="#cdcdcd" stroke-width="1.9"/>
<path d="M143.7,325.3 C144.1,326.6 144.6,328.4 146.0,333.0 C147.4,337.6 150.2,347.5 152.0,353.0 C153.8,358.5 155.3,361.8 157.0,366.0 C158.7,370.2 160.3,374.0 162.0,378.0 C163.7,382.0 165.2,386.2 167.0,390.0 C168.8,393.8 171.0,397.2 173.0,401.0 C175.0,404.8 177.0,409.0 179.0,413.0 C181.0,417.0 183.3,421.7 185.0,425.0 C186.7,428.3 187.7,430.2 189.0,433.0 C190.3,435.8 192.3,440.5 193.0,442.0" stroke="#adadad" stroke-width="5.6"/>
<path d="M143.7,325.3 C144.1,326.6 144.6,328.4 146.0,333.0 C147.4,337.6 150.2,347.5 152.0,353.0 C153.8,358.5 155.3,361.8 157.0,366.0 C158.7,370.2 160.3,374.0 162.0,378.0 C163.7,382.0 165.2,386.2 167.0,390.0 C168.8,393.8 171.0,397.2 173.0,401.0 C175.0,404.8 177.0,409.0 179.0,413.0 C181.0,417.0 183.3,421.7 185.0,425.0 C186.7,428.3 187.7,430.2 189.0,433.0 C190.3,435.8 192.3,440.5 193.0,442.0" stroke="#c1c1c1" stroke-width="3.5"/>
<path d="M143.7,325.3 C144.1,326.6 144.6,328.4 146.0,333.0 C147.4,337.6 150.2,347.5 152.0,353.0 C153.8,358.5 155.3,361.8 157.0,366.0 C158.7,370.2 160.3,374.0 162.0,378.0 C163.7,382.0 165.2,386.2 167.0,390.0 C168.8,393.8 171.0,397.2 173.0,401.0 C175.0,404.8 177.0,409.0 179.0,413.0 C181.0,417.0 183.3,421.7 185.0,425.0 C186.7,428.3 187.7,430.2 189.0,433.0 C190.3,435.8 192.3,440.5 193.0,442.0" stroke="#d0d0d0" stroke-width="1.5"/>
<path d="M216.4,325.4 C216.0,326.6 215.1,329.6 214.0,333.0 C212.9,336.4 211.5,341.3 210.0,346.0 C208.5,350.7 206.5,356.5 205.0,361.0 C203.5,365.5 202.2,367.8 201.0,373.0 C199.8,378.2 198.8,386.3 198.0,392.0 C197.2,397.7 196.7,402.0 196.0,407.0 C195.3,412.0 194.7,417.0 194.0,422.0 C193.3,427.0 192.5,432.8 192.0,437.0 C191.5,441.2 191.3,444.0 191.0,447.0 C190.7,450.0 190.3,453.6 190.2,455.0" stroke="#b4b4b4" stroke-width="5.8"/>
<path d="M216.4,325.4 C216.0,326.6 215.1,329.6 214.0,333.0 C212.9,336.4 211.5,341.3 210.0,346.0 C208.5,350.7 206.5,356.5 205.0,361.0 C203.5,365.5 202.2,367.8 201.0,373.0 C199.8,378.2 198.8,386.3 198.0,392.0 C197.2,397.7 196.7,402.0 196.0,407.0 C195.3,412.0 194.7,417.0 194.0,422.0 C193.3,427.0 192.5,432.8 192.0,437.0 C191.5,441.2 191.3,444.0 191.0,447.0 C190.7,450.0 190.3,453.6 190.2,455.0" stroke="#c8c8c8" stroke-width="3.6"/>
<path d="M216.4,325.4 C216.0,326.6 215.1,329.6 214.0,333.0 C212.9,336.4 211.5,341.3 210.0,346.0 C208.5,350.7 206.5,356.5 205.0,361.0 C203.5,365.5 202.2,367.8 201.0,373.0 C199.8,378.2 198.8,386.3 198.0,392.0 C197.2,397.7 196.7,402.0 196.0,407.0 C195.3,412.0 194.7,417.0 194.0,422.0 C193.3,427.0 192.5,432.8 192.0,437.0 C191.5,441.2 191.3,444.0 191.0,447.0 C190.7,450.0 190.3,453.6 190.2,455.0" stroke="#d7d7d7" stroke-width="1.6"/>
<path d="M111.8,346.2 C112.5,347.3 114.5,350.5 116.0,353.0 C117.5,355.5 119.7,358.0 121.0,361.0 C122.3,364.0 123.0,367.0 124.0,371.0 C125.0,375.0 126.0,379.3 127.0,385.0 C128.0,390.7 128.8,399.3 130.0,405.0 C131.2,410.7 132.5,414.3 134.0,419.0 C135.5,423.7 137.7,428.3 139.0,433.0 C140.3,437.7 141.2,443.4 142.0,447.0 C142.8,450.6 143.4,453.5 143.7,454.8" stroke="#b4b4b4" stroke-width="6.6"/>
<path d="M111.8,346.2 C112.5,347.3 114.5,350.5 116.0,353.0 C117.5,355.5 119.7,358.0 121.0,361.0 C122.3,364.0 123.0,367.0 124.0,371.0 C125.0,375.0 126.0,379.3 127.0,385.0 C128.0,390.7 128.8,399.3 130.0,405.0 C131.2,410.7 132.5,414.3 134.0,419.0 C135.5,423.7 137.7,428.3 139.0,433.0 C140.3,437.7 141.2,443.4 142.0,447.0 C142.8,450.6 143.4,453.5 143.7,454.8" stroke="#c8c8c8" stroke-width="4.2"/>
<path d="M111.8,346.2 C112.5,347.3 114.5,350.5 116.0,353.0 C117.5,355.5 119.7,358.0 121.0,361.0 C122.3,364.0 123.0,367.0 124.0,371.0 C125.0,375.0 126.0,379.3 127.0,385.0 C128.0,390.7 128.8,399.3 130.0,405.0 C131.2,410.7 132.5,414.3 134.0,419.0 C135.5,423.7 137.7,428.3 139.0,433.0 C140.3,437.7 141.2,443.4 142.0,447.0 C142.8,450.6 143.4,453.5 143.7,454.8" stroke="#d7d7d7" stroke-width="1.8"/>
<path d="M180.0,325.6 C180.5,326.8 181.2,328.4 183.0,333.0 C184.8,337.6 188.5,346.7 191.0,353.0 C193.5,359.3 196.2,366.3 198.0,371.0 C199.8,375.7 200.3,377.5 202.0,381.0 C203.7,384.5 205.7,388.8 208.0,392.0 C210.3,395.2 212.7,396.7 216.0,400.0 C219.3,403.3 224.2,408.3 228.0,412.0 C231.8,415.7 234.8,418.5 239.0,422.0 C243.2,425.5 249.6,430.3 253.0,433.0 C256.4,435.7 258.2,437.1 259.3,437.9" stroke="#bbbbbb" stroke-width="6.4"/>
<path d="M180.0,325.6 C180.5,326.8 181.2,328.4 183.0,333.0 C184.8,337.6 188.5,346.7 191.0,353.0 C193.5,359.3 196.2,366.3 198.0,371.0 C199.8,375.7 200.3,377.5 202.0,381.0 C203.7,384.5 205.7,388.8 208.0,392.0 C210.3,395.2 212.7,396.7 216.0,400.0 C219.3,403.3 224.2,408.3 228.0,412.0 C231.8,415.7 234.8,418.5 239.0,422.0 C243.2,425.5 249.6,430.3 253.0,433.0 C256.4,435.7 258.2,437.1 259.3,437.9" stroke="#cfcfcf" stroke-width="4.1"/>
<path d="M180.0,325.6 C180.5,326.8 181.2,328.4 183.0,333.0 C184.8,337.6 188.5,346.7 191.0,353.0 C193.5,359.3 196.2,366.3 198.0,371.0 C199.8,375.7 200.3,377.5 202.0,381.0 C203.7,384.5 205.7,388.8 208.0,392.0 C210.3,395.2 212.7,396.7 216.0,400.0 C219.3,403.3 224.2,408.3 228.0,412.0 C231.8,415.7 234.8,418.5 239.0,422.0 C243.2,425.5 249.6,430.3 253.0,433.0 C256.4,435.7 258.2,437.1 259.3,437.9" stroke="#dedede" stroke-width="1.7"/>
</g></g>
<clipPath id="semclip2"><rect x="307.1" y="333" width="133.1" height="114.2"/></clipPath>
<g clip-path="url(#semclip2)">
<rect x="307.1" y="333" width="133.1" height="114.2" fill="#1e1e1e"/>
<g filter="url(#semblur)" stroke-linecap="round" fill="none">
<path d="M378.6,209.7 L410.6,608.5" stroke="#303030" stroke-width="2.8"/>
<path d="M378.6,209.7 L410.6,608.5" stroke="#464646" stroke-width="1.4"/>
<path d="M266.9,240.8 L420.3,610.3" stroke="#5a5a5a" stroke-width="4.0"/>
<path d="M266.9,240.8 L420.3,610.3" stroke="#707070" stroke-width="2.1"/>
<path d="M431.5,152.9 L358.8,546.3" stroke="#3b3b3b" stroke-width="3.5"/>
<path d="M431.5,152.9 L358.8,546.3" stroke="#515151" stroke-width="1.8"/>
<path d="M506.3,368.3 L123.6,484.7" stroke="#606060" stroke-width="2.7"/>
<path d="M506.3,368.3 L123.6,484.7" stroke="#767676" stroke-width="1.3"/>
<path d="M263.0,254.9 L459.0,603.5" stroke="#343434" stroke-width="2.5"/>
<path d="M263.0,254.9 L459.0,603.5" stroke="#4a4a4a" stroke-width="1.2"/>
<path d="M567.8,290.6 L181.9,396.1" stroke="#727272" stroke-width="4.7"/>
<path d="M567.8,290.6 L181.9,396.1" stroke="#888888" stroke-width="2.5"/>
<path d="M175.8,279.2 L551.1,417.7" stroke="#5b5b5b" stroke-width="3.2"/>
<path d="M175.8,279.2 L551.1,417.7" stroke="#717171" stroke-width="1.6"/>
<path d="M225.7,240.6 L574.0,437.1" stroke="#696969" stroke-width="2.9"/>
<path d="M225.7,240.6 L574.0,437.1" stroke="#7f7f7f" stroke-width="1.4"/>
<path d="M301.4,210.7 L424.3,591.4" stroke="#4a4a4a" stroke-width="3.5"/>
<path d="M301.4,210.7 L424.3,591.4" stroke="#606060" stroke-width="1.8"/>
<path d="M204.7,424.4 L602.9,462.6" stroke="#5e5e5e" stroke-width="4.6"/>
<path d="M204.7,424.4 L602.9,462.6" stroke="#747474" stroke-width="2.5"/>
<path d="M268.2,231.8 L442.7,591.8" stroke="#373737" stroke-width="4.0"/>
<path d="M268.2,231.8 L442.7,591.8" stroke="#4d4d4d" stroke-width="2.1"/>
<path d="M207.5,256.8 L503.4,526.0" stroke="#535353" stroke-width="4.3"/>
<path d="M207.5,256.8 L503.4,526.0" stroke="#696969" stroke-width="2.3"/>
<path d="M217.4,364.5 L615.8,399.8" stroke="#3f3f3f" stroke-width="3.6"/>
<path d="M217.4,364.5 L615.8,399.8" stroke="#555555" stroke-width="1.9"/>
<path d="M313.5,226.4 L404.1,616.0" stroke="#565656" stroke-width="2.7"/>
<path d="M313.5,226.4 L404.1,616.0" stroke="#6c6c6c" stroke-width="1.3"/>
<path d="M230.2,231.1 L569.2,443.3" stroke="#484848" stroke-width="3.1"/>
<path d="M230.2,231.1 L569.2,443.3" stroke="#5e5e5e" stroke-width="1.6"/>
<path d="M397.4,203.7 L230.6,567.2" stroke="#434343" stroke-width="3.0"/>
<path d="M397.4,203.7 L230.6,567.2" stroke="#595959" stroke-width="1.5"/>
<path d="M419.8,188.5 L449.6,587.4" stroke="#3b3b3b" stroke-width="4.6"/>
<path d="M419.8,188.5 L449.6,587.4" stroke="#515151" stroke-width="2.5"/>
<path d="M549.9,307.5 L161.2,401.8" stroke="#6f6f6f" stroke-width="4.1"/>
<path d="M549.9,307.5 L161.2,401.8" stroke="#858585" stroke-width="2.2"/>
<path d="M142.8,416.8 L542.8,425.2" stroke="#404040" stroke-width="3.3"/>
<path d="M142.8,416.8 L542.8,425.2" stroke="#565656" stroke-width="1.7"/>
<path d="M112.5,398.3 L512.4,409.1" stroke="#757575" stroke-width="4.7"/>
<path d="M112.5,398.3 L512.4,409.1" stroke="#8b8b8b" stroke-width="2.5"/>
<path d="M312.5,169.8 L308.0,569.8" stroke="#6a6a6a" stroke-width="4.2"/>
<path d="M312.5,169.8 L308.0,569.8" stroke="#808080" stroke-width="2.2"/>
<path d="M422.5,212.1 L252.8,574.3" stroke="#5b5b5b" stroke-width="3.6"/>
<path d="M422.5,212.1 L252.8,574.3" stroke="#717171" stroke-width="1.8"/>
<path d="M297.4,288.2 L568.8,582.1" stroke="#444444" stroke-width="2.9"/>
<path d="M297.4,288.2 L568.8,582.1" stroke="#5a5a5a" stroke-width="1.4"/>
<path d="M528.5,363.2 L159.8,518.4" stroke="#606060" stroke-width="3.6"/>
<path d="M528.5,363.2 L159.8,518.4" stroke="#767676" stroke-width="1.9"/>
<path d="M455.5,205.5 L215.7,525.6" stroke="#5f5f5f" stroke-width="3.1"/>
<path d="M455.5,205.5 L215.7,525.6" stroke="#757575" stroke-width="1.5"/>
<path d="M439.2,270.3 L210.1,598.2" stroke="#404040" stroke-width="3.4"/>
<path d="M439.2,270.3 L210.1,598.2" stroke="#565656" stroke-width="1.8"/>
<path d="M397.1,201.1 L477.9,592.8" stroke="#707070" stroke-width="3.9"/>
<path d="M397.1,201.1 L477.9,592.8" stroke="#868686" stroke-width="2.0"/>
<path d="M606.9,356.9 L209.7,404.5" stroke="#6f6f6f" stroke-width="3.8"/>
<path d="M606.9,356.9 L209.7,404.5" stroke="#858585" stroke-width="2.0"/>
<path d="M542.1,249.7 L226.6,495.6" stroke="#636363" stroke-width="3.3"/>
<path d="M542.1,249.7 L226.6,495.6" stroke="#797979" stroke-width="1.7"/>
<path d="M348.9,218.0 L269.8,610.2" stroke="#676767" stroke-width="4.5"/>
<path d="M348.9,218.0 L269.8,610.2" stroke="#7d7d7d" stroke-width="2.4"/>
<path d="M618.0,330.8 L238.6,457.4" stroke="#4a4a4a" stroke-width="4.2"/>
<path d="M618.0,330.8 L238.6,457.4" stroke="#606060" stroke-width="2.2"/>
<path d="M163.6,307.9 L544.6,429.4" stroke="#606060" stroke-width="4.6"/>
<path d="M163.6,307.9 L544.6,429.4" stroke="#767676" stroke-width="2.4"/>
<path d="M416.0,148.9 L363.8,545.5" stroke="#616161" stroke-width="3.7"/>
<path d="M416.0,148.9 L363.8,545.5" stroke="#777777" stroke-width="1.9"/>
<path d="M274.5,190.4 L405.1,568.5" stroke="#5f5f5f" stroke-width="3.2"/>
<path d="M274.5,190.4 L405.1,568.5" stroke="#757575" stroke-width="1.6"/>
<path d="M138.7,282.5 L499.6,454.9" stroke="#656565" stroke-width="4.0"/>
<path d="M138.7,282.5 L499.6,454.9" stroke="#7b7b7b" stroke-width="2.1"/>
<path d="M527.5,199.3 L335.5,550.2" stroke="#525252" stroke-width="2.6"/>
<path d="M527.5,199.3 L335.5,550.2" stroke="#686868" stroke-width="1.2"/>
<path d="M295.8,212.3 L366.2,606.1" stroke="#404040" stroke-width="3.3"/>
<path d="M295.8,212.3 L366.2,606.1" stroke="#565656" stroke-width="1.7"/>
<path d="M329.5,162.6 L535.9,505.2" stroke="#434343" stroke-width="3.3"/>
<path d="M329.5,162.6 L535.9,505.2" stroke="#595959" stroke-width="1.7"/>
<path d="M203.4,239.9 L526.0,476.4" stroke="#535353" stroke-width="4.5"/>
<path d="M203.4,239.9 L526.0,476.4" stroke="#696969" stroke-width="2.4"/>
<path d="M445.3,223.6 L212.1,548.6" stroke="#6b6b6b" stroke-width="3.8"/>
<path d="M445.3,223.6 L212.1,548.6" stroke="#818181" stroke-width="2.0"/>
<path d="M226.8,289.3 L509.8,572.0" stroke="#3f3f3f" stroke-width="4.3"/>
<path d="M226.8,289.3 L509.8,572.0" stroke="#555555" stroke-width="2.3"/>
<path d="M432.2,179.6 L384.6,576.7" stroke="#5e5e5e" stroke-width="4.0"/>
<path d="M432.2,179.6 L384.6,576.7" stroke="#747474" stroke-width="2.1"/>
<path d="M580.1,393.4 L181.6,428.0" stroke="#636363" stroke-width="3.3"/>
<path d="M580.1,393.4 L181.6,428.0" stroke="#797979" stroke-width="1.7"/>
<path d="M267.7,204.6 L479.6,543.8" stroke="#393939" stroke-width="3.2"/>
<path d="M267.7,204.6 L479.6,543.8" stroke="#4f4f4f" stroke-width="1.6"/>
<path d="M227.7,231.5 L531.4,492.0" stroke="#686868" stroke-width="2.6"/>
<path d="M227.7,231.5 L531.4,492.0" stroke="#7e7e7e" stroke-width="1.3"/>
<path d="M317.0,348.0 C320.3,347.5 331.2,346.0 337.0,345.0 C342.8,344.0 349.5,342.5 352.0,342.0" stroke="#787878" stroke-width="3.1"/>
<path d="M317.0,348.0 C320.3,347.5 331.2,346.0 337.0,345.0 C342.8,344.0 349.5,342.5 352.0,342.0" stroke="#8c8c8c" stroke-width="1.8"/>
<path d="M317.0,348.0 C320.3,347.5 331.2,346.0 337.0,345.0 C342.8,344.0 349.5,342.5 352.0,342.0" stroke="#9b9b9b" stroke-width="0.8"/>
<path d="M349.0,377.0 C349.3,379.5 350.7,389.5 351.0,392.0" stroke="#7b7b7b" stroke-width="3.6"/>
<path d="M349.0,377.0 C349.3,379.5 350.7,389.5 351.0,392.0" stroke="#8f8f8f" stroke-width="2.1"/>
<path d="M349.0,377.0 C349.3,379.5 350.7,389.5 351.0,392.0" stroke="#9e9e9e" stroke-width="0.9"/>
<path d="M306.4,365.2 C307.0,364.0 308.6,360.9 310.0,358.0 C311.4,355.1 312.5,351.0 315.0,348.0 C317.5,345.0 321.3,342.0 325.0,340.0 C328.7,338.0 333.7,337.1 337.0,336.0 C340.3,334.9 343.3,333.9 344.6,333.5" stroke="#828282" stroke-width="4.1"/>
<path d="M306.4,365.2 C307.0,364.0 308.6,360.9 310.0,358.0 C311.4,355.1 312.5,351.0 315.0,348.0 C317.5,345.0 321.3,342.0 325.0,340.0 C328.7,338.0 333.7,337.1 337.0,336.0 C340.3,334.9 343.3,333.9 344.6,333.5" stroke="#969696" stroke-width="2.4"/>
<path d="M306.4,365.2 C307.0,364.0 308.6,360.9 310.0,358.0 C311.4,355.1 312.5,351.0 315.0,348.0 C317.5,345.0 321.3,342.0 325.0,340.0 C328.7,338.0 333.7,337.1 337.0,336.0 C340.3,334.9 343.3,333.9 344.6,333.5" stroke="#a5a5a5" stroke-width="1.1"/>
<path d="M342.0,373.0 C344.5,374.3 351.2,379.0 357.0,381.0 C362.8,383.0 373.7,384.3 377.0,385.0" stroke="#858585" stroke-width="4.1"/>
<path d="M342.0,373.0 C344.5,374.3 351.2,379.0 357.0,381.0 C362.8,383.0 373.7,384.3 377.0,385.0" stroke="#999999" stroke-width="2.4"/>
<path d="M342.0,373.0 C344.5,374.3 351.2,379.0 357.0,381.0 C362.8,383.0 373.7,384.3 377.0,385.0" stroke="#a8a8a8" stroke-width="1.1"/>
<path d="M367.0,363.0 C366.3,366.3 364.3,376.3 363.0,383.0 C361.7,389.7 359.7,399.7 359.0,403.0" stroke="#858585" stroke-width="4.1"/>
<path d="M367.0,363.0 C366.3,366.3 364.3,376.3 363.0,383.0 C361.7,389.7 359.7,399.7 359.0,403.0" stroke="#999999" stroke-width="2.4"/>
<path d="M367.0,363.0 C366.3,366.3 364.3,376.3 363.0,383.0 C361.7,389.7 359.7,399.7 359.0,403.0" stroke="#a8a8a8" stroke-width="1.1"/>
<path d="M448.7,380.3 C447.4,379.9 443.9,378.9 441.0,378.0 C438.1,377.1 435.2,376.2 431.0,375.0 C426.8,373.8 418.5,371.7 416.0,371.0" stroke="#858585" stroke-width="4.1"/>
<path d="M448.7,380.3 C447.4,379.9 443.9,378.9 441.0,378.0 C438.1,377.1 435.2,376.2 431.0,375.0 C426.8,373.8 418.5,371.7 416.0,371.0" stroke="#999999" stroke-width="2.4"/>
<path d="M448.7,380.3 C447.4,379.9 443.9,378.9 441.0,378.0 C438.1,377.1 435.2,376.2 431.0,375.0 C426.8,373.8 418.5,371.7 416.0,371.0" stroke="#a8a8a8" stroke-width="1.1"/>
<path d="M299.1,435.9 C300.4,436.1 303.2,436.5 307.0,437.0 C310.8,437.5 317.0,438.3 322.0,439.0 C327.0,439.7 334.5,440.7 337.0,441.0" stroke="#858585" stroke-width="4.1"/>
<path d="M299.1,435.9 C300.4,436.1 303.2,436.5 307.0,437.0 C310.8,437.5 317.0,438.3 322.0,439.0 C327.0,439.7 334.5,440.7 337.0,441.0" stroke="#999999" stroke-width="2.4"/>
<path d="M299.1,435.9 C300.4,436.1 303.2,436.5 307.0,437.0 C310.8,437.5 317.0,438.3 322.0,439.0 C327.0,439.7 334.5,440.7 337.0,441.0" stroke="#a8a8a8" stroke-width="1.1"/>
<path d="M391.0,437.0 C394.3,435.3 404.3,429.5 411.0,427.0 C417.7,424.5 427.7,422.8 431.0,422.0" stroke="#858585" stroke-width="3.6"/>
<path d="M391.0,437.0 C394.3,435.3 404.3,429.5 411.0,427.0 C417.7,424.5 427.7,422.8 431.0,422.0" stroke="#999999" stroke-width="2.1"/>
<path d="M391.0,437.0 C394.3,435.3 404.3,429.5 411.0,427.0 C417.7,424.5 427.7,422.8 431.0,422.0" stroke="#a8a8a8" stroke-width="0.9"/>
<path d="M299.0,391.0 C300.3,391.0 302.3,391.0 307.0,391.0 C311.7,391.0 320.3,390.7 327.0,391.0 C333.7,391.3 338.7,392.7 347.0,393.0 C355.3,393.3 372.0,393.0 377.0,393.0" stroke="#898989" stroke-width="4.1"/>
<path d="M299.0,391.0 C300.3,391.0 302.3,391.0 307.0,391.0 C311.7,391.0 320.3,390.7 327.0,391.0 C333.7,391.3 338.7,392.7 347.0,393.0 C355.3,393.3 372.0,393.0 377.0,393.0" stroke="#9d9d9d" stroke-width="2.4"/>
<path d="M299.0,391.0 C300.3,391.0 302.3,391.0 307.0,391.0 C311.7,391.0 320.3,390.7 327.0,391.0 C333.7,391.3 338.7,392.7 347.0,393.0 C355.3,393.3 372.0,393.0 377.0,393.0" stroke="#acacac" stroke-width="1.1"/>
<path d="M376.0,403.0 C377.7,400.5 382.7,392.2 386.0,388.0 C389.3,383.8 392.7,380.5 396.0,378.0 C399.3,375.5 404.3,373.8 406.0,373.0" stroke="#898989" stroke-width="4.1"/>
<path d="M376.0,403.0 C377.7,400.5 382.7,392.2 386.0,388.0 C389.3,383.8 392.7,380.5 396.0,378.0 C399.3,375.5 404.3,373.8 406.0,373.0" stroke="#9d9d9d" stroke-width="2.4"/>
<path d="M376.0,403.0 C377.7,400.5 382.7,392.2 386.0,388.0 C389.3,383.8 392.7,380.5 396.0,378.0 C399.3,375.5 404.3,373.8 406.0,373.0" stroke="#acacac" stroke-width="1.1"/>
<path d="M332.0,387.0 C334.5,388.7 342.0,394.5 347.0,397.0 C352.0,399.5 357.0,400.7 362.0,402.0 C367.0,403.3 374.5,404.5 377.0,405.0" stroke="#898989" stroke-width="4.1"/>
<path d="M332.0,387.0 C334.5,388.7 342.0,394.5 347.0,397.0 C352.0,399.5 357.0,400.7 362.0,402.0 C367.0,403.3 374.5,404.5 377.0,405.0" stroke="#9d9d9d" stroke-width="2.4"/>
<path d="M332.0,387.0 C334.5,388.7 342.0,394.5 347.0,397.0 C352.0,399.5 357.0,400.7 362.0,402.0 C367.0,403.3 374.5,404.5 377.0,405.0" stroke="#acacac" stroke-width="1.1"/>
<path d="M313.0,411.0 C314.2,412.7 317.8,417.3 320.0,421.0 C322.2,424.7 324.5,428.7 326.0,433.0 C327.5,437.3 328.2,443.4 329.0,447.0 C329.8,450.6 330.4,453.5 330.7,454.8" stroke="#898989" stroke-width="4.1"/>
<path d="M313.0,411.0 C314.2,412.7 317.8,417.3 320.0,421.0 C322.2,424.7 324.5,428.7 326.0,433.0 C327.5,437.3 328.2,443.4 329.0,447.0 C329.8,450.6 330.4,453.5 330.7,454.8" stroke="#9d9d9d" stroke-width="2.4"/>
<path d="M313.0,411.0 C314.2,412.7 317.8,417.3 320.0,421.0 C322.2,424.7 324.5,428.7 326.0,433.0 C327.5,437.3 328.2,443.4 329.0,447.0 C329.8,450.6 330.4,453.5 330.7,454.8" stroke="#acacac" stroke-width="1.1"/>
<path d="M427.0,417.0 C427.7,418.7 429.7,423.7 431.0,427.0 C432.3,430.3 433.7,433.7 435.0,437.0 C436.3,440.3 437.8,444.1 439.0,447.0 C440.2,449.9 441.5,453.2 442.0,454.4" stroke="#898989" stroke-width="4.1"/>
<path d="M427.0,417.0 C427.7,418.7 429.7,423.7 431.0,427.0 C432.3,430.3 433.7,433.7 435.0,437.0 C436.3,440.3 437.8,444.1 439.0,447.0 C440.2,449.9 441.5,453.2 442.0,454.4" stroke="#9d9d9d" stroke-width="2.4"/>
<path d="M427.0,417.0 C427.7,418.7 429.7,423.7 431.0,427.0 C432.3,430.3 433.7,433.7 435.0,437.0 C436.3,440.3 437.8,444.1 439.0,447.0 C440.2,449.9 441.5,453.2 442.0,454.4" stroke="#acacac" stroke-width="1.1"/>
<path d="M405.3,327.3 C406.3,328.3 408.4,330.4 411.0,333.0 C413.6,335.6 417.7,340.0 421.0,343.0 C424.3,346.0 427.7,348.8 431.0,351.0 C434.3,353.2 438.1,354.6 441.0,356.0 C443.9,357.4 447.0,359.0 448.2,359.6" stroke="#8c8c8c" stroke-width="4.6"/>
<path d="M405.3,327.3 C406.3,328.3 408.4,330.4 411.0,333.0 C413.6,335.6 417.7,340.0 421.0,343.0 C424.3,346.0 427.7,348.8 431.0,351.0 C434.3,353.2 438.1,354.6 441.0,356.0 C443.9,357.4 447.0,359.0 448.2,359.6" stroke="#a0a0a0" stroke-width="2.8"/>
<path d="M405.3,327.3 C406.3,328.3 408.4,330.4 411.0,333.0 C413.6,335.6 417.7,340.0 421.0,343.0 C424.3,346.0 427.7,348.8 431.0,351.0 C434.3,353.2 438.1,354.6 441.0,356.0 C443.9,357.4 447.0,359.0 448.2,359.6" stroke="#afafaf" stroke-width="1.2"/>
<path d="M331.3,327.3 C332.3,328.3 334.4,330.4 337.0,333.0 C339.6,335.6 344.0,339.7 347.0,343.0 C350.0,346.3 352.5,349.2 355.0,353.0 C357.5,356.8 360.8,363.8 362.0,366.0" stroke="#8f8f8f" stroke-width="4.6"/>
<path d="M331.3,327.3 C332.3,328.3 334.4,330.4 337.0,333.0 C339.6,335.6 344.0,339.7 347.0,343.0 C350.0,346.3 352.5,349.2 355.0,353.0 C357.5,356.8 360.8,363.8 362.0,366.0" stroke="#a3a3a3" stroke-width="2.8"/>
<path d="M331.3,327.3 C332.3,328.3 334.4,330.4 337.0,333.0 C339.6,335.6 344.0,339.7 347.0,343.0 C350.0,346.3 352.5,349.2 355.0,353.0 C357.5,356.8 360.8,363.8 362.0,366.0" stroke="#b2b2b2" stroke-width="1.2"/>
<path d="M448.6,350.5 C447.3,350.9 444.8,351.7 441.0,353.0 C437.2,354.3 431.0,356.3 426.0,358.0 C421.0,359.7 413.5,362.2 411.0,363.0" stroke="#8f8f8f" stroke-width="4.1"/>
<path d="M448.6,350.5 C447.3,350.9 444.8,351.7 441.0,353.0 C437.2,354.3 431.0,356.3 426.0,358.0 C421.0,359.7 413.5,362.2 411.0,363.0" stroke="#a3a3a3" stroke-width="2.4"/>
<path d="M448.6,350.5 C447.3,350.9 444.8,351.7 441.0,353.0 C437.2,354.3 431.0,356.3 426.0,358.0 C421.0,359.7 413.5,362.2 411.0,363.0" stroke="#b2b2b2" stroke-width="1.1"/>
<path d="M415.0,392.0 C413.5,393.7 409.2,398.7 406.0,402.0 C402.8,405.3 399.3,408.7 396.0,412.0 C392.7,415.3 387.7,420.3 386.0,422.0" stroke="#8f8f8f" stroke-width="4.6"/>
<path d="M415.0,392.0 C413.5,393.7 409.2,398.7 406.0,402.0 C402.8,405.3 399.3,408.7 396.0,412.0 C392.7,415.3 387.7,420.3 386.0,422.0" stroke="#a3a3a3" stroke-width="2.8"/>
<path d="M415.0,392.0 C413.5,393.7 409.2,398.7 406.0,402.0 C402.8,405.3 399.3,408.7 396.0,412.0 C392.7,415.3 387.7,420.3 386.0,422.0" stroke="#b2b2b2" stroke-width="1.2"/>
<path d="M372.1,332.0 C373.2,332.6 375.8,334.2 379.0,336.0 C382.2,337.8 386.5,340.2 391.0,343.0 C395.5,345.8 402.2,349.7 406.0,353.0 C409.8,356.3 412.7,361.3 414.0,363.0" stroke="#939393" stroke-width="5.1"/>
<path d="M372.1,332.0 C373.2,332.6 375.8,334.2 379.0,336.0 C382.2,337.8 386.5,340.2 391.0,343.0 C395.5,345.8 402.2,349.7 406.0,353.0 C409.8,356.3 412.7,361.3 414.0,363.0" stroke="#a7a7a7" stroke-width="3.1"/>
<path d="M372.1,332.0 C373.2,332.6 375.8,334.2 379.0,336.0 C382.2,337.8 386.5,340.2 391.0,343.0 C395.5,345.8 402.2,349.7 406.0,353.0 C409.8,356.3 412.7,361.3 414.0,363.0" stroke="#b6b6b6" stroke-width="1.3"/>
<path d="M386.0,419.0 C388.5,418.3 396.0,416.5 401.0,415.0 C406.0,413.5 411.0,411.5 416.0,410.0 C421.0,408.5 426.8,407.0 431.0,406.0 C435.2,405.0 438.0,404.6 441.0,404.0 C444.0,403.4 447.5,402.7 448.8,402.4" stroke="#939393" stroke-width="4.6"/>
<path d="M386.0,419.0 C388.5,418.3 396.0,416.5 401.0,415.0 C406.0,413.5 411.0,411.5 416.0,410.0 C421.0,408.5 426.8,407.0 431.0,406.0 C435.2,405.0 438.0,404.6 441.0,404.0 C444.0,403.4 447.5,402.7 448.8,402.4" stroke="#a7a7a7" stroke-width="2.8"/>
<path d="M386.0,419.0 C388.5,418.3 396.0,416.5 401.0,415.0 C406.0,413.5 411.0,411.5 416.0,410.0 C421.0,408.5 426.8,407.0 431.0,406.0 C435.2,405.0 438.0,404.6 441.0,404.0 C444.0,403.4 447.5,402.7 448.8,402.4" stroke="#b6b6b6" stroke-width="1.2"/>
<path d="M371.0,422.0 C372.7,422.3 377.7,422.8 381.0,424.0 C384.3,425.2 387.7,426.8 391.0,429.0 C394.3,431.2 398.5,434.0 401.0,437.0 C403.5,440.0 404.6,444.1 406.0,447.0 C407.4,449.9 409.0,453.0 409.6,454.2" stroke="#999999" stroke-width="4.6"/>
<path d="M371.0,422.0 C372.7,422.3 377.7,422.8 381.0,424.0 C384.3,425.2 387.7,426.8 391.0,429.0 C394.3,431.2 398.5,434.0 401.0,437.0 C403.5,440.0 404.6,444.1 406.0,447.0 C407.4,449.9 409.0,453.0 409.6,454.2" stroke="#adadad" stroke-width="2.8"/>
<path d="M371.0,422.0 C372.7,422.3 377.7,422.8 381.0,424.0 C384.3,425.2 387.7,426.8 391.0,429.0 C394.3,431.2 398.5,434.0 401.0,437.0 C403.5,440.0 404.6,444.1 406.0,447.0 C407.4,449.9 409.0,453.0 409.6,454.2" stroke="#bcbcbc" stroke-width="1.2"/>
<path d="M300.4,361.4 C301.5,362.2 304.2,364.1 307.0,366.0 C309.8,367.9 313.5,370.0 317.0,373.0 C320.5,376.0 325.2,380.0 328.0,384.0 C330.8,388.0 332.0,393.2 334.0,397.0 C336.0,400.8 337.8,403.7 340.0,407.0 C342.2,410.3 344.8,414.0 347.0,417.0 C349.2,420.0 351.0,422.0 353.0,425.0 C355.0,428.0 357.3,431.3 359.0,435.0 C360.7,438.7 361.9,443.7 363.0,447.0 C364.1,450.3 365.1,453.3 365.5,454.6" stroke="#9b9b9b" stroke-width="4.4"/>
<path d="M300.4,361.4 C301.5,362.2 304.2,364.1 307.0,366.0 C309.8,367.9 313.5,370.0 317.0,373.0 C320.5,376.0 325.2,380.0 328.0,384.0 C330.8,388.0 332.0,393.2 334.0,397.0 C336.0,400.8 337.8,403.7 340.0,407.0 C342.2,410.3 344.8,414.0 347.0,417.0 C349.2,420.0 351.0,422.0 353.0,425.0 C355.0,428.0 357.3,431.3 359.0,435.0 C360.7,438.7 361.9,443.7 363.0,447.0 C364.1,450.3 365.1,453.3 365.5,454.6" stroke="#afafaf" stroke-width="2.7"/>
<path d="M300.4,361.4 C301.5,362.2 304.2,364.1 307.0,366.0 C309.8,367.9 313.5,370.0 317.0,373.0 C320.5,376.0 325.2,380.0 328.0,384.0 C330.8,388.0 332.0,393.2 334.0,397.0 C336.0,400.8 337.8,403.7 340.0,407.0 C342.2,410.3 344.8,414.0 347.0,417.0 C349.2,420.0 351.0,422.0 353.0,425.0 C355.0,428.0 357.3,431.3 359.0,435.0 C360.7,438.7 361.9,443.7 363.0,447.0 C364.1,450.3 365.1,453.3 365.5,454.6" stroke="#bebebe" stroke-width="1.1"/>
<path d="M371.6,325.0 C371.7,326.3 371.8,328.3 372.0,333.0 C372.2,337.7 373.0,346.3 373.0,353.0 C373.0,359.7 371.7,366.0 372.0,373.0 C372.3,380.0 373.7,388.5 375.0,395.0 C376.3,401.5 378.5,406.2 380.0,412.0 C381.5,417.8 383.0,424.2 384.0,430.0 C385.0,435.8 385.5,442.8 386.0,447.0 C386.5,451.2 386.8,453.6 386.9,454.9" stroke="#9b9b9b" stroke-width="5.4"/>
<path d="M371.6,325.0 C371.7,326.3 371.8,328.3 372.0,333.0 C372.2,337.7 373.0,346.3 373.0,353.0 C373.0,359.7 371.7,366.0 372.0,373.0 C372.3,380.0 373.7,388.5 375.0,395.0 C376.3,401.5 378.5,406.2 380.0,412.0 C381.5,417.8 383.0,424.2 384.0,430.0 C385.0,435.8 385.5,442.8 386.0,447.0 C386.5,451.2 386.8,453.6 386.9,454.9" stroke="#afafaf" stroke-width="3.4"/>
<path d="M371.6,325.0 C371.7,326.3 371.8,328.3 372.0,333.0 C372.2,337.7 373.0,346.3 373.0,353.0 C373.0,359.7 371.7,366.0 372.0,373.0 C372.3,380.0 373.7,388.5 375.0,395.0 C376.3,401.5 378.5,406.2 380.0,412.0 C381.5,417.8 383.0,424.2 384.0,430.0 C385.0,435.8 385.5,442.8 386.0,447.0 C386.5,451.2 386.8,453.6 386.9,454.9" stroke="#bebebe" stroke-width="1.4"/>
<path d="M299.0,427.5 C300.3,427.4 303.2,427.3 307.0,427.0 C310.8,426.7 317.0,426.0 322.0,426.0 C327.0,426.0 332.0,426.3 337.0,427.0 C342.0,427.7 347.8,428.7 352.0,430.0 C356.2,431.3 358.7,433.0 362.0,435.0 C365.3,437.0 369.5,440.0 372.0,442.0 C374.5,444.0 375.2,445.2 377.0,447.0 C378.8,448.8 381.7,451.7 382.7,452.7" stroke="#9d9d9d" stroke-width="5.1"/>
<path d="M299.0,427.5 C300.3,427.4 303.2,427.3 307.0,427.0 C310.8,426.7 317.0,426.0 322.0,426.0 C327.0,426.0 332.0,426.3 337.0,427.0 C342.0,427.7 347.8,428.7 352.0,430.0 C356.2,431.3 358.7,433.0 362.0,435.0 C365.3,437.0 369.5,440.0 372.0,442.0 C374.5,444.0 375.2,445.2 377.0,447.0 C378.8,448.8 381.7,451.7 382.7,452.7" stroke="#b1b1b1" stroke-width="3.1"/>
<path d="M299.0,427.5 C300.3,427.4 303.2,427.3 307.0,427.0 C310.8,426.7 317.0,426.0 322.0,426.0 C327.0,426.0 332.0,426.3 337.0,427.0 C342.0,427.7 347.8,428.7 352.0,430.0 C356.2,431.3 358.7,433.0 362.0,435.0 C365.3,437.0 369.5,440.0 372.0,442.0 C374.5,444.0 375.2,445.2 377.0,447.0 C378.8,448.8 381.7,451.7 382.7,452.7" stroke="#c0c0c0" stroke-width="1.3"/>
<path d="M299.0,363.5 C300.3,363.6 303.2,363.7 307.0,364.0 C310.8,364.3 316.2,365.3 322.0,365.0 C327.8,364.7 336.2,362.8 342.0,362.0 C347.8,361.2 352.2,360.5 357.0,360.0 C361.8,359.5 365.3,359.0 371.0,359.0 C376.7,359.0 384.3,359.5 391.0,360.0 C397.7,360.5 404.3,361.2 411.0,362.0 C417.7,362.8 426.0,364.3 431.0,365.0 C436.0,365.7 438.0,365.7 441.0,366.0 C444.0,366.3 447.6,366.7 449.0,366.8" stroke="#a0a0a0" stroke-width="5.1"/>
<path d="M299.0,363.5 C300.3,363.6 303.2,363.7 307.0,364.0 C310.8,364.3 316.2,365.3 322.0,365.0 C327.8,364.7 336.2,362.8 342.0,362.0 C347.8,361.2 352.2,360.5 357.0,360.0 C361.8,359.5 365.3,359.0 371.0,359.0 C376.7,359.0 384.3,359.5 391.0,360.0 C397.7,360.5 404.3,361.2 411.0,362.0 C417.7,362.8 426.0,364.3 431.0,365.0 C436.0,365.7 438.0,365.7 441.0,366.0 C444.0,366.3 447.6,366.7 449.0,366.8" stroke="#b4b4b4" stroke-width="3.1"/>
<path d="M299.0,363.5 C300.3,363.6 303.2,363.7 307.0,364.0 C310.8,364.3 316.2,365.3 322.0,365.0 C327.8,364.7 336.2,362.8 342.0,362.0 C347.8,361.2 352.2,360.5 357.0,360.0 C361.8,359.5 365.3,359.0 371.0,359.0 C376.7,359.0 384.3,359.5 391.0,360.0 C397.7,360.5 404.3,361.2 411.0,362.0 C417.7,362.8 426.0,364.3 431.0,365.0 C436.0,365.7 438.0,365.7 441.0,366.0 C444.0,366.3 447.6,366.7 449.0,366.8" stroke="#c3c3c3" stroke-width="1.3"/>
<path d="M357.0,347.0 C355.3,348.8 350.3,354.0 347.0,358.0 C343.7,362.0 340.2,366.7 337.0,371.0 C333.8,375.3 330.5,380.0 328.0,384.0 C325.5,388.0 324.2,391.2 322.0,395.0 C319.8,398.8 317.0,403.3 315.0,407.0 C313.0,410.7 311.3,414.5 310.0,417.0 C308.7,419.5 308.2,420.0 307.0,422.0 C305.8,424.0 303.6,427.7 302.9,428.9" stroke="#a0a0a0" stroke-width="4.6"/>
<path d="M357.0,347.0 C355.3,348.8 350.3,354.0 347.0,358.0 C343.7,362.0 340.2,366.7 337.0,371.0 C333.8,375.3 330.5,380.0 328.0,384.0 C325.5,388.0 324.2,391.2 322.0,395.0 C319.8,398.8 317.0,403.3 315.0,407.0 C313.0,410.7 311.3,414.5 310.0,417.0 C308.7,419.5 308.2,420.0 307.0,422.0 C305.8,424.0 303.6,427.7 302.9,428.9" stroke="#b4b4b4" stroke-width="2.8"/>
<path d="M357.0,347.0 C355.3,348.8 350.3,354.0 347.0,358.0 C343.7,362.0 340.2,366.7 337.0,371.0 C333.8,375.3 330.5,380.0 328.0,384.0 C325.5,388.0 324.2,391.2 322.0,395.0 C319.8,398.8 317.0,403.3 315.0,407.0 C313.0,410.7 311.3,414.5 310.0,417.0 C308.7,419.5 308.2,420.0 307.0,422.0 C305.8,424.0 303.6,427.7 302.9,428.9" stroke="#c3c3c3" stroke-width="1.2"/>
<path d="M299.0,409.0 C300.3,409.0 303.2,409.0 307.0,409.0 C310.8,409.0 317.0,408.7 322.0,409.0 C327.0,409.3 332.0,410.2 337.0,411.0 C342.0,411.8 347.0,412.7 352.0,414.0 C357.0,415.3 362.8,417.8 367.0,419.0 C371.2,420.2 375.3,420.7 377.0,421.0" stroke="#a0a0a0" stroke-width="5.1"/>
<path d="M299.0,409.0 C300.3,409.0 303.2,409.0 307.0,409.0 C310.8,409.0 317.0,408.7 322.0,409.0 C327.0,409.3 332.0,410.2 337.0,411.0 C342.0,411.8 347.0,412.7 352.0,414.0 C357.0,415.3 362.8,417.8 367.0,419.0 C371.2,420.2 375.3,420.7 377.0,421.0" stroke="#b4b4b4" stroke-width="3.1"/>
<path d="M299.0,409.0 C300.3,409.0 303.2,409.0 307.0,409.0 C310.8,409.0 317.0,408.7 322.0,409.0 C327.0,409.3 332.0,410.2 337.0,411.0 C342.0,411.8 347.0,412.7 352.0,414.0 C357.0,415.3 362.8,417.8 367.0,419.0 C371.2,420.2 375.3,420.7 377.0,421.0" stroke="#c3c3c3" stroke-width="1.3"/>
<path d="M381.0,361.0 C383.5,362.7 391.0,367.5 396.0,371.0 C401.0,374.5 406.0,378.2 411.0,382.0 C416.0,385.8 421.0,390.2 426.0,394.0 C431.0,397.8 437.4,402.4 441.0,405.0 C444.6,407.6 446.4,408.9 447.5,409.7" stroke="#a3a3a3" stroke-width="5.6"/>
<path d="M381.0,361.0 C383.5,362.7 391.0,367.5 396.0,371.0 C401.0,374.5 406.0,378.2 411.0,382.0 C416.0,385.8 421.0,390.2 426.0,394.0 C431.0,397.8 437.4,402.4 441.0,405.0 C444.6,407.6 446.4,408.9 447.5,409.7" stroke="#b7b7b7" stroke-width="3.5"/>
<path d="M381.0,361.0 C383.5,362.7 391.0,367.5 396.0,371.0 C401.0,374.5 406.0,378.2 411.0,382.0 C416.0,385.8 421.0,390.2 426.0,394.0 C431.0,397.8 437.4,402.4 441.0,405.0 C444.6,407.6 446.4,408.9 447.5,409.7" stroke="#c6c6c6" stroke-width="1.5"/>
<path d="M446.7,386.3 C445.7,387.3 443.9,389.1 441.0,392.0 C438.1,394.9 432.7,399.5 429.0,404.0 C425.3,408.5 422.0,414.2 419.0,419.0 C416.0,423.8 413.2,428.3 411.0,433.0 C408.8,437.7 407.3,443.4 406.0,447.0 C404.7,450.6 403.8,453.3 403.3,454.5" stroke="#aaaaaa" stroke-width="5.1"/>
<path d="M446.7,386.3 C445.7,387.3 443.9,389.1 441.0,392.0 C438.1,394.9 432.7,399.5 429.0,404.0 C425.3,408.5 422.0,414.2 419.0,419.0 C416.0,423.8 413.2,428.3 411.0,433.0 C408.8,437.7 407.3,443.4 406.0,447.0 C404.7,450.6 403.8,453.3 403.3,454.5" stroke="#bebebe" stroke-width="3.1"/>
<path d="M446.7,386.3 C445.7,387.3 443.9,389.1 441.0,392.0 C438.1,394.9 432.7,399.5 429.0,404.0 C425.3,408.5 422.0,414.2 419.0,419.0 C416.0,423.8 413.2,428.3 411.0,433.0 C408.8,437.7 407.3,443.4 406.0,447.0 C404.7,450.6 403.8,453.3 403.3,454.5" stroke="#cdcdcd" stroke-width="1.3"/>
</g></g>
<clipPath id="semclip3"><rect x="495.1" y="333" width="132.9" height="114.2"/></clipPath>
<g clip-path="url(#semclip3)">
<rect x="495.1" y="333" width="132.9" height="114.2" fill="#232323"/>
<g filter="url(#semblur)" stroke-linecap="round" fill="none">
<path d="M393.2,376.8 L778.8,483.2" stroke="#555555" stroke-width="2.9"/>
<path d="M393.2,376.8 L778.8,483.2" stroke="#6b6b6b" stroke-width="1.4"/>
<path d="M425.6,179.7 L603.8,537.8" stroke="#4d4d4d" stroke-width="4.1"/>
<path d="M425.6,179.7 L603.8,537.8" stroke="#636363" stroke-width="2.2"/>
<path d="M334.4,390.7 L734.1,373.9" stroke="#717171" stroke-width="4.3"/>
<path d="M334.4,390.7 L734.1,373.9" stroke="#878787" stroke-width="2.3"/>
<path d="M302.9,316.3 L691.1,412.7" stroke="#858585" stroke-width="2.8"/>
<path d="M302.9,316.3 L691.1,412.7" stroke="#9b9b9b" stroke-width="1.4"/>
<path d="M447.1,295.1 L762.7,541.0" stroke="#7f7f7f" stroke-width="4.6"/>
<path d="M447.1,295.1 L762.7,541.0" stroke="#959595" stroke-width="2.5"/>
<path d="M360.6,537.7 L697.8,322.5" stroke="#7c7c7c" stroke-width="3.6"/>
<path d="M360.6,537.7 L697.8,322.5" stroke="#929292" stroke-width="1.8"/>
<path d="M347.3,421.1 L739.7,343.1" stroke="#4c4c4c" stroke-width="3.2"/>
<path d="M347.3,421.1 L739.7,343.1" stroke="#626262" stroke-width="1.6"/>
<path d="M405.0,404.9 L803.1,443.4" stroke="#777777" stroke-width="4.7"/>
<path d="M405.0,404.9 L803.1,443.4" stroke="#8d8d8d" stroke-width="2.5"/>
<path d="M338.1,507.2 L688.0,313.4" stroke="#515151" stroke-width="3.5"/>
<path d="M338.1,507.2 L688.0,313.4" stroke="#676767" stroke-width="1.8"/>
<path d="M322.1,388.0 L722.0,397.4" stroke="#666666" stroke-width="3.1"/>
<path d="M322.1,388.0 L722.0,397.4" stroke="#7c7c7c" stroke-width="1.5"/>
<path d="M313.5,409.0 L711.5,369.1" stroke="#555555" stroke-width="3.0"/>
<path d="M313.5,409.0 L711.5,369.1" stroke="#6b6b6b" stroke-width="1.5"/>
<path d="M321.0,376.7 L720.9,373.0" stroke="#747474" stroke-width="2.7"/>
<path d="M321.0,376.7 L720.9,373.0" stroke="#8a8a8a" stroke-width="1.3"/>
<path d="M453.1,294.3 L728.2,584.8" stroke="#4e4e4e" stroke-width="2.6"/>
<path d="M453.1,294.3 L728.2,584.8" stroke="#646464" stroke-width="1.3"/>
<path d="M404.9,395.9 L799.5,461.5" stroke="#4f4f4f" stroke-width="3.9"/>
<path d="M404.9,395.9 L799.5,461.5" stroke="#656565" stroke-width="2.0"/>
<path d="M446.5,535.7 L779.3,313.8" stroke="#848484" stroke-width="2.9"/>
<path d="M446.5,535.7 L779.3,313.8" stroke="#9a9a9a" stroke-width="1.5"/>
<path d="M414.3,263.3 L675.5,566.3" stroke="#8c8c8c" stroke-width="2.8"/>
<path d="M414.3,263.3 L675.5,566.3" stroke="#a2a2a2" stroke-width="1.4"/>
<path d="M335.6,472.7 L710.9,334.3" stroke="#707070" stroke-width="3.8"/>
<path d="M335.6,472.7 L710.9,334.3" stroke="#868686" stroke-width="2.0"/>
<path d="M346.6,454.6 L739.1,377.6" stroke="#5a5a5a" stroke-width="3.3"/>
<path d="M346.6,454.6 L739.1,377.6" stroke="#707070" stroke-width="1.7"/>
<path d="M359.8,226.7 L660.3,490.8" stroke="#747474" stroke-width="2.7"/>
<path d="M359.8,226.7 L660.3,490.8" stroke="#8a8a8a" stroke-width="1.3"/>
<path d="M460.4,227.1 L677.6,563.0" stroke="#646464" stroke-width="2.6"/>
<path d="M460.4,227.1 L677.6,563.0" stroke="#7a7a7a" stroke-width="1.3"/>
<path d="M299.0,409.8 L692.0,484.1" stroke="#5a5a5a" stroke-width="2.8"/>
<path d="M299.0,409.8 L692.0,484.1" stroke="#707070" stroke-width="1.4"/>
<path d="M356.0,304.1 L705.7,498.3" stroke="#676767" stroke-width="2.7"/>
<path d="M356.0,304.1 L705.7,498.3" stroke="#7d7d7d" stroke-width="1.3"/>
<path d="M308.0,439.9 L683.7,302.6" stroke="#8c8c8c" stroke-width="3.6"/>
<path d="M308.0,439.9 L683.7,302.6" stroke="#a2a2a2" stroke-width="1.9"/>
<path d="M464.6,213.5 L662.9,560.8" stroke="#5a5a5a" stroke-width="4.0"/>
<path d="M464.6,213.5 L662.9,560.8" stroke="#707070" stroke-width="2.1"/>
<path d="M494.9,258.2 L737.3,576.4" stroke="#777777" stroke-width="3.1"/>
<path d="M494.9,258.2 L737.3,576.4" stroke="#8d8d8d" stroke-width="1.5"/>
<path d="M426.7,278.0 L789.2,447.1" stroke="#5e5e5e" stroke-width="3.8"/>
<path d="M426.7,278.0 L789.2,447.1" stroke="#747474" stroke-width="2.0"/>
<path d="M333.0,308.3 L711.4,437.8" stroke="#616161" stroke-width="2.6"/>
<path d="M333.0,308.3 L711.4,437.8" stroke="#777777" stroke-width="1.3"/>
<path d="M359.6,284.0 L653.7,555.2" stroke="#444444" stroke-width="3.8"/>
<path d="M359.6,284.0 L653.7,555.2" stroke="#5a5a5a" stroke-width="2.0"/>
<path d="M372.2,325.0 L745.8,467.7" stroke="#595959" stroke-width="3.2"/>
<path d="M372.2,325.0 L745.8,467.7" stroke="#6f6f6f" stroke-width="1.6"/>
<path d="M353.0,353.1 L752.9,344.2" stroke="#4c4c4c" stroke-width="4.4"/>
<path d="M353.0,353.1 L752.9,344.2" stroke="#626262" stroke-width="2.3"/>
<path d="M357.8,285.4 L713.0,469.3" stroke="#4d4d4d" stroke-width="2.6"/>
<path d="M357.8,285.4 L713.0,469.3" stroke="#636363" stroke-width="1.2"/>
<path d="M343.1,386.4 L743.1,380.5" stroke="#8e8e8e" stroke-width="4.4"/>
<path d="M343.1,386.4 L743.1,380.5" stroke="#a4a4a4" stroke-width="2.4"/>
<path d="M394.0,263.5 L630.6,586.1" stroke="#868686" stroke-width="3.2"/>
<path d="M394.0,263.5 L630.6,586.1" stroke="#9c9c9c" stroke-width="1.6"/>
<path d="M391.1,253.3 L744.1,441.4" stroke="#565656" stroke-width="2.5"/>
<path d="M391.1,253.3 L744.1,441.4" stroke="#6c6c6c" stroke-width="1.2"/>
<path d="M384.8,276.8 L732.7,474.1" stroke="#808080" stroke-width="3.3"/>
<path d="M384.8,276.8 L732.7,474.1" stroke="#969696" stroke-width="1.7"/>
<path d="M324.4,396.2 L722.6,433.9" stroke="#8a8a8a" stroke-width="4.0"/>
<path d="M324.4,396.2 L722.6,433.9" stroke="#a0a0a0" stroke-width="2.1"/>
<path d="M422.4,549.4 L684.9,247.6" stroke="#828282" stroke-width="3.9"/>
<path d="M422.4,549.4 L684.9,247.6" stroke="#989898" stroke-width="2.0"/>
<path d="M417.2,312.9 L811.6,379.5" stroke="#6c6c6c" stroke-width="2.8"/>
<path d="M417.2,312.9 L811.6,379.5" stroke="#828282" stroke-width="1.4"/>
<path d="M365.6,336.4 L704.2,549.3" stroke="#4a4a4a" stroke-width="3.2"/>
<path d="M365.6,336.4 L704.2,549.3" stroke="#606060" stroke-width="1.6"/>
<path d="M310.0,392.4 L694.0,280.5" stroke="#4c4c4c" stroke-width="4.1"/>
<path d="M310.0,392.4 L694.0,280.5" stroke="#626262" stroke-width="2.2"/>
<path d="M428.8,407.0 L827.1,443.8" stroke="#727272" stroke-width="3.4"/>
<path d="M428.8,407.0 L827.1,443.8" stroke="#888888" stroke-width="1.8"/>
<path d="M454.5,545.5 L757.2,284.0" stroke="#7d7d7d" stroke-width="3.1"/>
<path d="M454.5,545.5 L757.2,284.0" stroke="#939393" stroke-width="1.6"/>
<path d="M469.7,263.9 L785.3,509.7" stroke="#7e7e7e" stroke-width="3.1"/>
<path d="M469.7,263.9 L785.3,509.7" stroke="#949494" stroke-width="1.6"/>
<path d="M389.8,220.6 L720.0,446.3" stroke="#575757" stroke-width="2.6"/>
<path d="M389.8,220.6 L720.0,446.3" stroke="#6d6d6d" stroke-width="1.2"/>
<path d="M336.5,487.8 L719.5,372.4" stroke="#636363" stroke-width="4.4"/>
<path d="M336.5,487.8 L719.5,372.4" stroke="#797979" stroke-width="2.3"/>
<path d="M590.5,223.4 L663.8,616.6" stroke="#575757" stroke-width="3.6"/>
<path d="M590.5,223.4 L663.8,616.6" stroke="#6d6d6d" stroke-width="1.8"/>
<path d="M424.4,495.9 L708.5,214.4" stroke="#676767" stroke-width="3.3"/>
<path d="M424.4,495.9 L708.5,214.4" stroke="#7d7d7d" stroke-width="1.7"/>
<path d="M354.0,287.6 L686.9,509.3" stroke="#818181" stroke-width="2.6"/>
<path d="M354.0,287.6 L686.9,509.3" stroke="#979797" stroke-width="1.2"/>
<path d="M390.7,286.6 L756.0,449.6" stroke="#696969" stroke-width="4.4"/>
<path d="M390.7,286.6 L756.0,449.6" stroke="#7f7f7f" stroke-width="2.4"/>
<path d="M392.2,326.5 L736.5,530.1" stroke="#7b7b7b" stroke-width="3.0"/>
<path d="M392.2,326.5 L736.5,530.1" stroke="#919191" stroke-width="1.5"/>
<path d="M422.6,338.3 L822.6,332.7" stroke="#4e4e4e" stroke-width="4.4"/>
<path d="M422.6,338.3 L822.6,332.7" stroke="#646464" stroke-width="2.3"/>
<path d="M408.4,376.9 L805.0,324.3" stroke="#696969" stroke-width="2.6"/>
<path d="M408.4,376.9 L805.0,324.3" stroke="#7f7f7f" stroke-width="1.3"/>
<path d="M403.6,277.4 L715.9,527.4" stroke="#6b6b6b" stroke-width="3.0"/>
<path d="M403.6,277.4 L715.9,527.4" stroke="#818181" stroke-width="1.5"/>
<path d="M298.1,357.9 L694.6,410.8" stroke="#5d5d5d" stroke-width="4.2"/>
<path d="M298.1,357.9 L694.6,410.8" stroke="#737373" stroke-width="2.2"/>
<path d="M400.0,314.1 L776.4,449.5" stroke="#7b7b7b" stroke-width="4.5"/>
<path d="M400.0,314.1 L776.4,449.5" stroke="#919191" stroke-width="2.4"/>
<path d="M331.1,345.0 L685.8,529.8" stroke="#818181" stroke-width="4.6"/>
<path d="M331.1,345.0 L685.8,529.8" stroke="#979797" stroke-width="2.4"/>
<path d="M438.1,280.2 L743.7,538.2" stroke="#575757" stroke-width="3.8"/>
<path d="M438.1,280.2 L743.7,538.2" stroke="#6d6d6d" stroke-width="2.0"/>
<path d="M326.9,489.5 L698.8,342.4" stroke="#484848" stroke-width="3.8"/>
<path d="M326.9,489.5 L698.8,342.4" stroke="#5e5e5e" stroke-width="2.0"/>
<path d="M365.0,449.0 L761.2,394.0" stroke="#606060" stroke-width="4.4"/>
<path d="M365.0,449.0 L761.2,394.0" stroke="#767676" stroke-width="2.4"/>
<path d="M409.3,438.4 L797.4,341.6" stroke="#636363" stroke-width="3.8"/>
<path d="M409.3,438.4 L797.4,341.6" stroke="#797979" stroke-width="2.0"/>
<path d="M487.0,223.7 L756.3,519.5" stroke="#888888" stroke-width="4.0"/>
<path d="M487.0,223.7 L756.3,519.5" stroke="#9e9e9e" stroke-width="2.1"/>
<path d="M386.6,359.4 L785.3,392.3" stroke="#676767" stroke-width="2.7"/>
<path d="M386.6,359.4 L785.3,392.3" stroke="#7d7d7d" stroke-width="1.3"/>
<path d="M424.8,543.3 L773.9,347.9" stroke="#626262" stroke-width="3.5"/>
<path d="M424.8,543.3 L773.9,347.9" stroke="#787878" stroke-width="1.8"/>
<path d="M431.7,274.2 L708.5,563.0" stroke="#545454" stroke-width="2.7"/>
<path d="M431.7,274.2 L708.5,563.0" stroke="#6a6a6a" stroke-width="1.3"/>
<path d="M369.5,331.2 L700.4,555.9" stroke="#8a8a8a" stroke-width="3.0"/>
<path d="M369.5,331.2 L700.4,555.9" stroke="#a0a0a0" stroke-width="1.5"/>
<path d="M379.0,230.2 L689.5,482.4" stroke="#4a4a4a" stroke-width="4.6"/>
<path d="M379.0,230.2 L689.5,482.4" stroke="#606060" stroke-width="2.5"/>
<path d="M330.7,277.3 L677.3,477.0" stroke="#4f4f4f" stroke-width="3.0"/>
<path d="M330.7,277.3 L677.3,477.0" stroke="#656565" stroke-width="1.5"/>
<path d="M321.0,318.1 L673.4,507.4" stroke="#555555" stroke-width="2.6"/>
<path d="M321.0,318.1 L673.4,507.4" stroke="#6b6b6b" stroke-width="1.3"/>
<path d="M427.4,539.9 L738.1,288.0" stroke="#7f7f7f" stroke-width="4.0"/>
<path d="M427.4,539.9 L738.1,288.0" stroke="#959595" stroke-width="2.1"/>
<path d="M409.9,374.6 L807.0,326.8" stroke="#727272" stroke-width="2.6"/>
<path d="M409.9,374.6 L807.0,326.8" stroke="#888888" stroke-width="1.3"/>
<path d="M581.0,377.0 C581.3,379.5 582.7,389.5 583.0,392.0" stroke="#7f7f7f" stroke-width="3.6"/>
<path d="M581.0,377.0 C581.3,379.5 582.7,389.5 583.0,392.0" stroke="#939393" stroke-width="2.1"/>
<path d="M581.0,377.0 C581.3,379.5 582.7,389.5 583.0,392.0" stroke="#a2a2a2" stroke-width="0.9"/>
<path d="M505.0,362.0 C508.3,362.3 518.3,363.3 525.0,364.0 C531.7,364.7 541.7,365.7 545.0,366.0" stroke="#858585" stroke-width="4.1"/>
<path d="M505.0,362.0 C508.3,362.3 518.3,363.3 525.0,364.0 C531.7,364.7 541.7,365.7 545.0,366.0" stroke="#999999" stroke-width="2.4"/>
<path d="M505.0,362.0 C508.3,362.3 518.3,363.3 525.0,364.0 C531.7,364.7 541.7,365.7 545.0,366.0" stroke="#a8a8a8" stroke-width="1.1"/>
<path d="M599.0,383.0 C600.7,384.7 605.7,389.7 609.0,393.0 C612.3,396.3 617.3,401.3 619.0,403.0" stroke="#858585" stroke-width="4.1"/>
<path d="M599.0,383.0 C600.7,384.7 605.7,389.7 609.0,393.0 C612.3,396.3 617.3,401.3 619.0,403.0" stroke="#999999" stroke-width="2.4"/>
<path d="M599.0,383.0 C600.7,384.7 605.7,389.7 609.0,393.0 C612.3,396.3 617.3,401.3 619.0,403.0" stroke="#a8a8a8" stroke-width="1.1"/>
<path d="M603.3,327.3 C604.3,328.3 606.4,330.4 609.0,333.0 C611.6,335.6 615.8,340.2 619.0,343.0 C622.2,345.8 625.4,348.0 628.0,350.0 C630.6,352.0 633.3,354.1 634.3,354.9" stroke="#858585" stroke-width="3.6"/>
<path d="M603.3,327.3 C604.3,328.3 606.4,330.4 609.0,333.0 C611.6,335.6 615.8,340.2 619.0,343.0 C622.2,345.8 625.4,348.0 628.0,350.0 C630.6,352.0 633.3,354.1 634.3,354.9" stroke="#999999" stroke-width="2.1"/>
<path d="M603.3,327.3 C604.3,328.3 606.4,330.4 609.0,333.0 C611.6,335.6 615.8,340.2 619.0,343.0 C622.2,345.8 625.4,348.0 628.0,350.0 C630.6,352.0 633.3,354.1 634.3,354.9" stroke="#a8a8a8" stroke-width="0.9"/>
<path d="M535.0,422.0 C535.8,423.7 538.3,427.8 540.0,432.0 C541.7,436.2 543.7,443.2 545.0,447.0 C546.3,450.8 547.1,453.3 547.5,454.6" stroke="#858585" stroke-width="3.6"/>
<path d="M535.0,422.0 C535.8,423.7 538.3,427.8 540.0,432.0 C541.7,436.2 543.7,443.2 545.0,447.0 C546.3,450.8 547.1,453.3 547.5,454.6" stroke="#999999" stroke-width="2.1"/>
<path d="M535.0,422.0 C535.8,423.7 538.3,427.8 540.0,432.0 C541.7,436.2 543.7,443.2 545.0,447.0 C546.3,450.8 547.1,453.3 547.5,454.6" stroke="#a8a8a8" stroke-width="0.9"/>
<path d="M487.2,436.6 C488.5,436.3 492.0,435.6 495.0,435.0 C498.0,434.4 501.7,433.7 505.0,433.0 C508.3,432.3 513.3,431.3 515.0,431.0" stroke="#858585" stroke-width="3.6"/>
<path d="M487.2,436.6 C488.5,436.3 492.0,435.6 495.0,435.0 C498.0,434.4 501.7,433.7 505.0,433.0 C508.3,432.3 513.3,431.3 515.0,431.0" stroke="#999999" stroke-width="2.1"/>
<path d="M487.2,436.6 C488.5,436.3 492.0,435.6 495.0,435.0 C498.0,434.4 501.7,433.7 505.0,433.0 C508.3,432.3 513.3,431.3 515.0,431.0" stroke="#a8a8a8" stroke-width="0.9"/>
<path d="M565.0,419.0 C562.5,420.0 555.0,423.0 550.0,425.0 C545.0,427.0 537.5,430.0 535.0,431.0" stroke="#858585" stroke-width="3.6"/>
<path d="M565.0,419.0 C562.5,420.0 555.0,423.0 550.0,425.0 C545.0,427.0 537.5,430.0 535.0,431.0" stroke="#999999" stroke-width="2.1"/>
<path d="M565.0,419.0 C562.5,420.0 555.0,423.0 550.0,425.0 C545.0,427.0 537.5,430.0 535.0,431.0" stroke="#a8a8a8" stroke-width="0.9"/>
<path d="M521.4,325.8 C522.0,327.0 523.6,330.1 525.0,333.0 C526.4,335.9 528.3,339.7 530.0,343.0 C531.7,346.3 534.2,351.3 535.0,353.0" stroke="#898989" stroke-width="4.1"/>
<path d="M521.4,325.8 C522.0,327.0 523.6,330.1 525.0,333.0 C526.4,335.9 528.3,339.7 530.0,343.0 C531.7,346.3 534.2,351.3 535.0,353.0" stroke="#9d9d9d" stroke-width="2.4"/>
<path d="M521.4,325.8 C522.0,327.0 523.6,330.1 525.0,333.0 C526.4,335.9 528.3,339.7 530.0,343.0 C531.7,346.3 534.2,351.3 535.0,353.0" stroke="#acacac" stroke-width="1.1"/>
<path d="M546.4,325.8 C547.0,327.0 548.6,330.1 550.0,333.0 C551.4,335.9 552.5,339.7 555.0,343.0 C557.5,346.3 563.3,351.3 565.0,353.0" stroke="#898989" stroke-width="4.1"/>
<path d="M546.4,325.8 C547.0,327.0 548.6,330.1 550.0,333.0 C551.4,335.9 552.5,339.7 555.0,343.0 C557.5,346.3 563.3,351.3 565.0,353.0" stroke="#9d9d9d" stroke-width="2.4"/>
<path d="M546.4,325.8 C547.0,327.0 548.6,330.1 550.0,333.0 C551.4,335.9 552.5,339.7 555.0,343.0 C557.5,346.3 563.3,351.3 565.0,353.0" stroke="#acacac" stroke-width="1.1"/>
<path d="M589.0,361.0 C591.5,361.3 599.0,362.5 604.0,363.0 C609.0,363.5 615.0,363.8 619.0,364.0 C623.0,364.2 625.2,364.0 628.0,364.0 C630.8,364.0 634.7,364.0 636.0,364.0" stroke="#898989" stroke-width="4.1"/>
<path d="M589.0,361.0 C591.5,361.3 599.0,362.5 604.0,363.0 C609.0,363.5 615.0,363.8 619.0,364.0 C623.0,364.2 625.2,364.0 628.0,364.0 C630.8,364.0 634.7,364.0 636.0,364.0" stroke="#9d9d9d" stroke-width="2.4"/>
<path d="M589.0,361.0 C591.5,361.3 599.0,362.5 604.0,363.0 C609.0,363.5 615.0,363.8 619.0,364.0 C623.0,364.2 625.2,364.0 628.0,364.0 C630.8,364.0 634.7,364.0 636.0,364.0" stroke="#acacac" stroke-width="1.1"/>
<path d="M559.0,348.0 C561.5,349.2 569.3,352.8 574.0,355.0 C578.7,357.2 584.8,360.0 587.0,361.0" stroke="#898989" stroke-width="4.1"/>
<path d="M559.0,348.0 C561.5,349.2 569.3,352.8 574.0,355.0 C578.7,357.2 584.8,360.0 587.0,361.0" stroke="#9d9d9d" stroke-width="2.4"/>
<path d="M559.0,348.0 C561.5,349.2 569.3,352.8 574.0,355.0 C578.7,357.2 584.8,360.0 587.0,361.0" stroke="#acacac" stroke-width="1.1"/>
<path d="M525.0,377.0 C526.7,378.7 531.7,384.5 535.0,387.0 C538.3,389.5 540.0,389.5 545.0,392.0 C550.0,394.5 561.7,400.3 565.0,402.0" stroke="#898989" stroke-width="4.1"/>
<path d="M525.0,377.0 C526.7,378.7 531.7,384.5 535.0,387.0 C538.3,389.5 540.0,389.5 545.0,392.0 C550.0,394.5 561.7,400.3 565.0,402.0" stroke="#9d9d9d" stroke-width="2.4"/>
<path d="M525.0,377.0 C526.7,378.7 531.7,384.5 535.0,387.0 C538.3,389.5 540.0,389.5 545.0,392.0 C550.0,394.5 561.7,400.3 565.0,402.0" stroke="#acacac" stroke-width="1.1"/>
<path d="M605.0,381.0 C606.0,382.8 608.7,388.0 611.0,392.0 C613.3,396.0 616.3,401.2 619.0,405.0 C621.7,408.8 624.8,412.3 627.0,415.0 C629.2,417.7 631.2,420.2 632.0,421.2" stroke="#898989" stroke-width="4.1"/>
<path d="M605.0,381.0 C606.0,382.8 608.7,388.0 611.0,392.0 C613.3,396.0 616.3,401.2 619.0,405.0 C621.7,408.8 624.8,412.3 627.0,415.0 C629.2,417.7 631.2,420.2 632.0,421.2" stroke="#9d9d9d" stroke-width="2.4"/>
<path d="M605.0,381.0 C606.0,382.8 608.7,388.0 611.0,392.0 C613.3,396.0 616.3,401.2 619.0,405.0 C621.7,408.8 624.8,412.3 627.0,415.0 C629.2,417.7 631.2,420.2 632.0,421.2" stroke="#acacac" stroke-width="1.1"/>
<path d="M631.4,389.8 C630.8,391.0 629.7,393.3 628.0,397.0 C626.3,400.7 623.2,407.8 621.0,412.0 C618.8,416.2 616.0,420.3 615.0,422.0" stroke="#898989" stroke-width="3.6"/>
<path d="M631.4,389.8 C630.8,391.0 629.7,393.3 628.0,397.0 C626.3,400.7 623.2,407.8 621.0,412.0 C618.8,416.2 616.0,420.3 615.0,422.0" stroke="#9d9d9d" stroke-width="2.1"/>
<path d="M631.4,389.8 C630.8,391.0 629.7,393.3 628.0,397.0 C626.3,400.7 623.2,407.8 621.0,412.0 C618.8,416.2 616.0,420.3 615.0,422.0" stroke="#acacac" stroke-width="0.9"/>
<path d="M559.0,422.0 C560.7,422.8 565.7,425.2 569.0,427.0 C572.3,428.8 576.0,430.7 579.0,433.0 C582.0,435.3 585.7,439.7 587.0,441.0" stroke="#898989" stroke-width="4.1"/>
<path d="M559.0,422.0 C560.7,422.8 565.7,425.2 569.0,427.0 C572.3,428.8 576.0,430.7 579.0,433.0 C582.0,435.3 585.7,439.7 587.0,441.0" stroke="#9d9d9d" stroke-width="2.4"/>
<path d="M559.0,422.0 C560.7,422.8 565.7,425.2 569.0,427.0 C572.3,428.8 576.0,430.7 579.0,433.0 C582.0,435.3 585.7,439.7 587.0,441.0" stroke="#acacac" stroke-width="1.1"/>
<path d="M487.0,355.6 C488.3,355.7 490.3,355.8 495.0,356.0 C499.7,356.2 508.3,356.8 515.0,357.0 C521.7,357.2 528.3,356.7 535.0,357.0 C541.7,357.3 551.7,358.7 555.0,359.0" stroke="#8f8f8f" stroke-width="4.6"/>
<path d="M487.0,355.6 C488.3,355.7 490.3,355.8 495.0,356.0 C499.7,356.2 508.3,356.8 515.0,357.0 C521.7,357.2 528.3,356.7 535.0,357.0 C541.7,357.3 551.7,358.7 555.0,359.0" stroke="#a3a3a3" stroke-width="2.8"/>
<path d="M487.0,355.6 C488.3,355.7 490.3,355.8 495.0,356.0 C499.7,356.2 508.3,356.8 515.0,357.0 C521.7,357.2 528.3,356.7 535.0,357.0 C541.7,357.3 551.7,358.7 555.0,359.0" stroke="#b2b2b2" stroke-width="1.2"/>
<path d="M487.1,394.2 C488.4,394.0 490.3,393.7 495.0,393.0 C499.7,392.3 508.3,390.7 515.0,390.0 C521.7,389.3 528.3,389.2 535.0,389.0 C541.7,388.8 550.0,389.2 555.0,389.0 C560.0,388.8 561.0,389.0 565.0,388.0 C569.0,387.0 575.0,384.3 579.0,383.0 C583.0,381.7 587.3,380.5 589.0,380.0" stroke="#8f8f8f" stroke-width="4.1"/>
<path d="M487.1,394.2 C488.4,394.0 490.3,393.7 495.0,393.0 C499.7,392.3 508.3,390.7 515.0,390.0 C521.7,389.3 528.3,389.2 535.0,389.0 C541.7,388.8 550.0,389.2 555.0,389.0 C560.0,388.8 561.0,389.0 565.0,388.0 C569.0,387.0 575.0,384.3 579.0,383.0 C583.0,381.7 587.3,380.5 589.0,380.0" stroke="#a3a3a3" stroke-width="2.4"/>
<path d="M487.1,394.2 C488.4,394.0 490.3,393.7 495.0,393.0 C499.7,392.3 508.3,390.7 515.0,390.0 C521.7,389.3 528.3,389.2 535.0,389.0 C541.7,388.8 550.0,389.2 555.0,389.0 C560.0,388.8 561.0,389.0 565.0,388.0 C569.0,387.0 575.0,384.3 579.0,383.0 C583.0,381.7 587.3,380.5 589.0,380.0" stroke="#b2b2b2" stroke-width="1.1"/>
<path d="M496.4,325.2 C496.7,326.5 497.2,329.2 498.0,333.0 C498.8,336.8 499.8,342.2 501.0,348.0 C502.2,353.8 503.8,362.2 505.0,368.0 C506.2,373.8 507.2,378.5 508.0,383.0 C508.8,387.5 509.2,391.0 510.0,395.0 C510.8,399.0 511.7,403.3 513.0,407.0 C514.3,410.7 517.2,415.3 518.0,417.0" stroke="#8f8f8f" stroke-width="4.1"/>
<path d="M496.4,325.2 C496.7,326.5 497.2,329.2 498.0,333.0 C498.8,336.8 499.8,342.2 501.0,348.0 C502.2,353.8 503.8,362.2 505.0,368.0 C506.2,373.8 507.2,378.5 508.0,383.0 C508.8,387.5 509.2,391.0 510.0,395.0 C510.8,399.0 511.7,403.3 513.0,407.0 C514.3,410.7 517.2,415.3 518.0,417.0" stroke="#a3a3a3" stroke-width="2.4"/>
<path d="M496.4,325.2 C496.7,326.5 497.2,329.2 498.0,333.0 C498.8,336.8 499.8,342.2 501.0,348.0 C502.2,353.8 503.8,362.2 505.0,368.0 C506.2,373.8 507.2,378.5 508.0,383.0 C508.8,387.5 509.2,391.0 510.0,395.0 C510.8,399.0 511.7,403.3 513.0,407.0 C514.3,410.7 517.2,415.3 518.0,417.0" stroke="#b2b2b2" stroke-width="1.1"/>
<path d="M594.0,351.0 C596.5,350.5 603.3,349.2 609.0,348.0 C614.7,346.8 623.5,344.9 628.0,344.0 C632.5,343.1 634.5,342.6 635.8,342.4" stroke="#8f8f8f" stroke-width="4.1"/>
<path d="M594.0,351.0 C596.5,350.5 603.3,349.2 609.0,348.0 C614.7,346.8 623.5,344.9 628.0,344.0 C632.5,343.1 634.5,342.6 635.8,342.4" stroke="#a3a3a3" stroke-width="2.4"/>
<path d="M594.0,351.0 C596.5,350.5 603.3,349.2 609.0,348.0 C614.7,346.8 623.5,344.9 628.0,344.0 C632.5,343.1 634.5,342.6 635.8,342.4" stroke="#b2b2b2" stroke-width="1.1"/>
<path d="M487.3,398.1 C488.6,397.7 491.2,397.0 495.0,396.0 C498.8,395.0 505.0,393.0 510.0,392.0 C515.0,391.0 520.0,390.7 525.0,390.0 C530.0,389.3 537.5,388.3 540.0,388.0" stroke="#8f8f8f" stroke-width="4.1"/>
<path d="M487.3,398.1 C488.6,397.7 491.2,397.0 495.0,396.0 C498.8,395.0 505.0,393.0 510.0,392.0 C515.0,391.0 520.0,390.7 525.0,390.0 C530.0,389.3 537.5,388.3 540.0,388.0" stroke="#a3a3a3" stroke-width="2.4"/>
<path d="M487.3,398.1 C488.6,397.7 491.2,397.0 495.0,396.0 C498.8,395.0 505.0,393.0 510.0,392.0 C515.0,391.0 520.0,390.7 525.0,390.0 C530.0,389.3 537.5,388.3 540.0,388.0" stroke="#b2b2b2" stroke-width="1.1"/>
<path d="M495.4,402.8 C496.0,404.0 497.4,406.8 499.0,410.0 C500.6,413.2 503.2,418.2 505.0,422.0 C506.8,425.8 508.3,428.8 510.0,433.0 C511.7,437.2 513.7,443.4 515.0,447.0 C516.3,450.6 517.2,453.3 517.7,454.5" stroke="#8f8f8f" stroke-width="4.1"/>
<path d="M495.4,402.8 C496.0,404.0 497.4,406.8 499.0,410.0 C500.6,413.2 503.2,418.2 505.0,422.0 C506.8,425.8 508.3,428.8 510.0,433.0 C511.7,437.2 513.7,443.4 515.0,447.0 C516.3,450.6 517.2,453.3 517.7,454.5" stroke="#a3a3a3" stroke-width="2.4"/>
<path d="M495.4,402.8 C496.0,404.0 497.4,406.8 499.0,410.0 C500.6,413.2 503.2,418.2 505.0,422.0 C506.8,425.8 508.3,428.8 510.0,433.0 C511.7,437.2 513.7,443.4 515.0,447.0 C516.3,450.6 517.2,453.3 517.7,454.5" stroke="#b2b2b2" stroke-width="1.1"/>
<path d="M489.1,360.6 C490.0,361.5 492.3,363.6 495.0,366.0 C497.7,368.4 501.7,372.2 505.0,375.0 C508.3,377.8 511.7,380.3 515.0,383.0 C518.3,385.7 521.7,388.5 525.0,391.0 C528.3,393.5 532.0,396.0 535.0,398.0 C538.0,400.0 541.7,402.2 543.0,403.0" stroke="#939393" stroke-width="4.1"/>
<path d="M489.1,360.6 C490.0,361.5 492.3,363.6 495.0,366.0 C497.7,368.4 501.7,372.2 505.0,375.0 C508.3,377.8 511.7,380.3 515.0,383.0 C518.3,385.7 521.7,388.5 525.0,391.0 C528.3,393.5 532.0,396.0 535.0,398.0 C538.0,400.0 541.7,402.2 543.0,403.0" stroke="#a7a7a7" stroke-width="2.4"/>
<path d="M489.1,360.6 C490.0,361.5 492.3,363.6 495.0,366.0 C497.7,368.4 501.7,372.2 505.0,375.0 C508.3,377.8 511.7,380.3 515.0,383.0 C518.3,385.7 521.7,388.5 525.0,391.0 C528.3,393.5 532.0,396.0 535.0,398.0 C538.0,400.0 541.7,402.2 543.0,403.0" stroke="#b6b6b6" stroke-width="1.1"/>
<path d="M567.4,326.4 C568.2,327.5 570.1,330.2 572.0,333.0 C573.9,335.8 576.8,339.7 579.0,343.0 C581.2,346.3 583.3,349.7 585.0,353.0 C586.7,356.3 587.7,359.3 589.0,363.0 C590.3,366.7 591.7,370.7 593.0,375.0 C594.3,379.3 595.7,384.3 597.0,389.0 C598.3,393.7 599.7,398.0 601.0,403.0 C602.3,408.0 603.7,414.2 605.0,419.0 C606.3,423.8 608.0,427.3 609.0,432.0 C610.0,436.7 610.5,443.2 611.0,447.0 C611.5,450.8 611.9,453.6 612.1,454.9" stroke="#939393" stroke-width="4.1"/>
<path d="M567.4,326.4 C568.2,327.5 570.1,330.2 572.0,333.0 C573.9,335.8 576.8,339.7 579.0,343.0 C581.2,346.3 583.3,349.7 585.0,353.0 C586.7,356.3 587.7,359.3 589.0,363.0 C590.3,366.7 591.7,370.7 593.0,375.0 C594.3,379.3 595.7,384.3 597.0,389.0 C598.3,393.7 599.7,398.0 601.0,403.0 C602.3,408.0 603.7,414.2 605.0,419.0 C606.3,423.8 608.0,427.3 609.0,432.0 C610.0,436.7 610.5,443.2 611.0,447.0 C611.5,450.8 611.9,453.6 612.1,454.9" stroke="#a7a7a7" stroke-width="2.4"/>
<path d="M567.4,326.4 C568.2,327.5 570.1,330.2 572.0,333.0 C573.9,335.8 576.8,339.7 579.0,343.0 C581.2,346.3 583.3,349.7 585.0,353.0 C586.7,356.3 587.7,359.3 589.0,363.0 C590.3,366.7 591.7,370.7 593.0,375.0 C594.3,379.3 595.7,384.3 597.0,389.0 C598.3,393.7 599.7,398.0 601.0,403.0 C602.3,408.0 603.7,414.2 605.0,419.0 C606.3,423.8 608.0,427.3 609.0,432.0 C610.0,436.7 610.5,443.2 611.0,447.0 C611.5,450.8 611.9,453.6 612.1,454.9" stroke="#b6b6b6" stroke-width="1.1"/>
<path d="M510.0,377.0 C511.7,378.7 516.7,383.7 520.0,387.0 C523.3,390.3 526.7,393.7 530.0,397.0 C533.3,400.3 536.7,404.0 540.0,407.0 C543.3,410.0 545.8,412.3 550.0,415.0 C554.2,417.7 562.5,421.7 565.0,423.0" stroke="#939393" stroke-width="4.1"/>
<path d="M510.0,377.0 C511.7,378.7 516.7,383.7 520.0,387.0 C523.3,390.3 526.7,393.7 530.0,397.0 C533.3,400.3 536.7,404.0 540.0,407.0 C543.3,410.0 545.8,412.3 550.0,415.0 C554.2,417.7 562.5,421.7 565.0,423.0" stroke="#a7a7a7" stroke-width="2.4"/>
<path d="M510.0,377.0 C511.7,378.7 516.7,383.7 520.0,387.0 C523.3,390.3 526.7,393.7 530.0,397.0 C533.3,400.3 536.7,404.0 540.0,407.0 C543.3,410.0 545.8,412.3 550.0,415.0 C554.2,417.7 562.5,421.7 565.0,423.0" stroke="#b6b6b6" stroke-width="1.1"/>
<path d="M559.0,402.0 C560.7,403.3 565.7,407.2 569.0,410.0 C572.3,412.8 575.7,415.8 579.0,419.0 C582.3,422.2 585.7,425.7 589.0,429.0 C592.3,432.3 596.0,436.0 599.0,439.0 C602.0,442.0 604.7,444.7 607.0,447.0 C609.3,449.3 611.7,451.7 612.7,452.7" stroke="#939393" stroke-width="4.6"/>
<path d="M559.0,402.0 C560.7,403.3 565.7,407.2 569.0,410.0 C572.3,412.8 575.7,415.8 579.0,419.0 C582.3,422.2 585.7,425.7 589.0,429.0 C592.3,432.3 596.0,436.0 599.0,439.0 C602.0,442.0 604.7,444.7 607.0,447.0 C609.3,449.3 611.7,451.7 612.7,452.7" stroke="#a7a7a7" stroke-width="2.8"/>
<path d="M559.0,402.0 C560.7,403.3 565.7,407.2 569.0,410.0 C572.3,412.8 575.7,415.8 579.0,419.0 C582.3,422.2 585.7,425.7 589.0,429.0 C592.3,432.3 596.0,436.0 599.0,439.0 C602.0,442.0 604.7,444.7 607.0,447.0 C609.3,449.3 611.7,451.7 612.7,452.7" stroke="#b6b6b6" stroke-width="1.2"/>
<path d="M487.0,404.6 C488.3,404.7 490.3,404.8 495.0,405.0 C499.7,405.2 508.3,405.8 515.0,406.0 C521.7,406.2 529.2,405.8 535.0,406.0 C540.8,406.2 545.0,406.5 550.0,407.0 C555.0,407.5 562.5,408.7 565.0,409.0" stroke="#999999" stroke-width="5.1"/>
<path d="M487.0,404.6 C488.3,404.7 490.3,404.8 495.0,405.0 C499.7,405.2 508.3,405.8 515.0,406.0 C521.7,406.2 529.2,405.8 535.0,406.0 C540.8,406.2 545.0,406.5 550.0,407.0 C555.0,407.5 562.5,408.7 565.0,409.0" stroke="#adadad" stroke-width="3.1"/>
<path d="M487.0,404.6 C488.3,404.7 490.3,404.8 495.0,405.0 C499.7,405.2 508.3,405.8 515.0,406.0 C521.7,406.2 529.2,405.8 535.0,406.0 C540.8,406.2 545.0,406.5 550.0,407.0 C555.0,407.5 562.5,408.7 565.0,409.0" stroke="#bcbcbc" stroke-width="1.3"/>
<path d="M565.0,385.0 C563.3,385.7 557.5,387.7 555.0,389.0 C552.5,390.3 552.5,391.2 550.0,393.0 C547.5,394.8 543.7,397.2 540.0,400.0 C536.3,402.8 531.7,406.7 528.0,410.0 C524.3,413.3 521.0,416.2 518.0,420.0 C515.0,423.8 512.5,428.5 510.0,433.0 C507.5,437.5 504.8,443.5 503.0,447.0 C501.2,450.5 500.0,453.0 499.4,454.2" stroke="#9b9b9b" stroke-width="4.6"/>
<path d="M565.0,385.0 C563.3,385.7 557.5,387.7 555.0,389.0 C552.5,390.3 552.5,391.2 550.0,393.0 C547.5,394.8 543.7,397.2 540.0,400.0 C536.3,402.8 531.7,406.7 528.0,410.0 C524.3,413.3 521.0,416.2 518.0,420.0 C515.0,423.8 512.5,428.5 510.0,433.0 C507.5,437.5 504.8,443.5 503.0,447.0 C501.2,450.5 500.0,453.0 499.4,454.2" stroke="#afafaf" stroke-width="2.8"/>
<path d="M565.0,385.0 C563.3,385.7 557.5,387.7 555.0,389.0 C552.5,390.3 552.5,391.2 550.0,393.0 C547.5,394.8 543.7,397.2 540.0,400.0 C536.3,402.8 531.7,406.7 528.0,410.0 C524.3,413.3 521.0,416.2 518.0,420.0 C515.0,423.8 512.5,428.5 510.0,433.0 C507.5,437.5 504.8,443.5 503.0,447.0 C501.2,450.5 500.0,453.0 499.4,454.2" stroke="#bebebe" stroke-width="1.2"/>
<path d="M579.0,419.0 C581.5,419.3 589.0,420.2 594.0,421.0 C599.0,421.8 603.3,423.0 609.0,424.0 C614.7,425.0 623.5,426.3 628.0,427.0 C632.5,427.7 634.6,428.0 635.9,428.2" stroke="#9b9b9b" stroke-width="5.1"/>
<path d="M579.0,419.0 C581.5,419.3 589.0,420.2 594.0,421.0 C599.0,421.8 603.3,423.0 609.0,424.0 C614.7,425.0 623.5,426.3 628.0,427.0 C632.5,427.7 634.6,428.0 635.9,428.2" stroke="#afafaf" stroke-width="3.1"/>
<path d="M579.0,419.0 C581.5,419.3 589.0,420.2 594.0,421.0 C599.0,421.8 603.3,423.0 609.0,424.0 C614.7,425.0 623.5,426.3 628.0,427.0 C632.5,427.7 634.6,428.0 635.9,428.2" stroke="#bebebe" stroke-width="1.3"/>
<path d="M488.8,345.0 C489.8,345.8 492.3,347.8 495.0,350.0 C497.7,352.2 501.7,355.3 505.0,358.0 C508.3,360.7 511.7,363.5 515.0,366.0 C518.3,368.5 521.7,370.7 525.0,373.0 C528.3,375.3 531.7,377.7 535.0,380.0 C538.3,382.3 541.7,384.5 545.0,387.0 C548.3,389.5 551.7,392.7 555.0,395.0 C558.3,397.3 561.7,398.5 565.0,401.0 C568.3,403.5 571.0,405.3 575.0,410.0 C579.0,414.7 586.7,425.8 589.0,429.0" stroke="#9d9d9d" stroke-width="4.6"/>
<path d="M488.8,345.0 C489.8,345.8 492.3,347.8 495.0,350.0 C497.7,352.2 501.7,355.3 505.0,358.0 C508.3,360.7 511.7,363.5 515.0,366.0 C518.3,368.5 521.7,370.7 525.0,373.0 C528.3,375.3 531.7,377.7 535.0,380.0 C538.3,382.3 541.7,384.5 545.0,387.0 C548.3,389.5 551.7,392.7 555.0,395.0 C558.3,397.3 561.7,398.5 565.0,401.0 C568.3,403.5 571.0,405.3 575.0,410.0 C579.0,414.7 586.7,425.8 589.0,429.0" stroke="#b1b1b1" stroke-width="2.8"/>
<path d="M488.8,345.0 C489.8,345.8 492.3,347.8 495.0,350.0 C497.7,352.2 501.7,355.3 505.0,358.0 C508.3,360.7 511.7,363.5 515.0,366.0 C518.3,368.5 521.7,370.7 525.0,373.0 C528.3,375.3 531.7,377.7 535.0,380.0 C538.3,382.3 541.7,384.5 545.0,387.0 C548.3,389.5 551.7,392.7 555.0,395.0 C558.3,397.3 561.7,398.5 565.0,401.0 C568.3,403.5 571.0,405.3 575.0,410.0 C579.0,414.7 586.7,425.8 589.0,429.0" stroke="#c0c0c0" stroke-width="1.2"/>
<path d="M574.0,381.0 C577.3,380.3 588.2,378.2 594.0,377.0 C599.8,375.8 603.3,375.2 609.0,374.0 C614.7,372.8 623.5,370.9 628.0,370.0 C632.5,369.1 634.5,368.6 635.8,368.4" stroke="#9d9d9d" stroke-width="4.6"/>
<path d="M574.0,381.0 C577.3,380.3 588.2,378.2 594.0,377.0 C599.8,375.8 603.3,375.2 609.0,374.0 C614.7,372.8 623.5,370.9 628.0,370.0 C632.5,369.1 634.5,368.6 635.8,368.4" stroke="#b1b1b1" stroke-width="2.8"/>
<path d="M574.0,381.0 C577.3,380.3 588.2,378.2 594.0,377.0 C599.8,375.8 603.3,375.2 609.0,374.0 C614.7,372.8 623.5,370.9 628.0,370.0 C632.5,369.1 634.5,368.6 635.8,368.4" stroke="#c0c0c0" stroke-width="1.2"/>
<path d="M560.0,369.4 C561.7,371.5 565.0,375.4 570.0,382.3 C575.0,389.2 582.9,400.4 590.0,410.5 C597.1,420.6 608.5,436.7 612.8,442.8 C617.1,448.9 614.7,445.5 616.0,447.3 C617.3,449.1 619.9,452.7 620.6,453.8" stroke="#a3a3a3" stroke-width="5.4"/>
<path d="M560.0,369.4 C561.7,371.5 565.0,375.4 570.0,382.3 C575.0,389.2 582.9,400.4 590.0,410.5 C597.1,420.6 608.5,436.7 612.8,442.8 C617.1,448.9 614.7,445.5 616.0,447.3 C617.3,449.1 619.9,452.7 620.6,453.8" stroke="#b7b7b7" stroke-width="3.4"/>
<path d="M560.0,369.4 C561.7,371.5 565.0,375.4 570.0,382.3 C575.0,389.2 582.9,400.4 590.0,410.5 C597.1,420.6 608.5,436.7 612.8,442.8 C617.1,448.9 614.7,445.5 616.0,447.3 C617.3,449.1 619.9,452.7 620.6,453.8" stroke="#c6c6c6" stroke-width="1.4"/>
<path d="M602.0,325.6 C601.5,326.8 600.5,329.3 599.0,333.0 C597.5,336.7 594.7,343.0 593.0,348.0 C591.3,353.0 590.3,358.0 589.0,363.0 C587.7,368.0 586.2,373.0 585.0,378.0 C583.8,383.0 582.7,388.8 582.0,393.0 C581.3,397.2 581.2,401.3 581.0,403.0" stroke="#a3a3a3" stroke-width="4.6"/>
<path d="M602.0,325.6 C601.5,326.8 600.5,329.3 599.0,333.0 C597.5,336.7 594.7,343.0 593.0,348.0 C591.3,353.0 590.3,358.0 589.0,363.0 C587.7,368.0 586.2,373.0 585.0,378.0 C583.8,383.0 582.7,388.8 582.0,393.0 C581.3,397.2 581.2,401.3 581.0,403.0" stroke="#b7b7b7" stroke-width="2.8"/>
<path d="M602.0,325.6 C601.5,326.8 600.5,329.3 599.0,333.0 C597.5,336.7 594.7,343.0 593.0,348.0 C591.3,353.0 590.3,358.0 589.0,363.0 C587.7,368.0 586.2,373.0 585.0,378.0 C583.8,383.0 582.7,388.8 582.0,393.0 C581.3,397.2 581.2,401.3 581.0,403.0" stroke="#c6c6c6" stroke-width="1.2"/>
<path d="M530.4,326.5 C531.1,327.6 530.8,327.0 535.0,333.0 C539.2,339.0 550.0,354.1 555.8,362.3 C561.6,370.5 567.6,379.0 570.0,382.3" stroke="#bbbbbb" stroke-width="6.8"/>
<path d="M530.4,326.5 C531.1,327.6 530.8,327.0 535.0,333.0 C539.2,339.0 550.0,354.1 555.8,362.3 C561.6,370.5 567.6,379.0 570.0,382.3" stroke="#cfcfcf" stroke-width="4.3"/>
<path d="M530.4,326.5 C531.1,327.6 530.8,327.0 535.0,333.0 C539.2,339.0 550.0,354.1 555.8,362.3 C561.6,370.5 567.6,379.0 570.0,382.3" stroke="#dedede" stroke-width="1.9"/>
</g></g>
<path d="M193,439 H245.8" stroke="#fff" stroke-width="1.6"/>
<path d="M381.6,439.3 H433.6" stroke="#fff" stroke-width="1.6"/>
<path d="M569.9,439.3 H621.2" stroke="#fff" stroke-width="1.6"/>
<path d="M129.5,466.7 V531.9 H238.9" stroke="#333" stroke-width="1.1" fill="none"/>
<path d="M127.5,531.9 H129.5" stroke="#333" stroke-width="1"/>
<text transform="translate(127.1,536.3) scale(1,1.12)" font-size="9.3" text-anchor="end" fill="#222">0.000</text>
<path d="M127.5,515.7 H129.5" stroke="#333" stroke-width="1"/>
<text transform="translate(127.1,520.1) scale(1,1.12)" font-size="9.3" text-anchor="end" fill="#222">0.005</text>
<path d="M127.5,499.5 H129.5" stroke="#333" stroke-width="1"/>
<text transform="translate(127.1,503.9) scale(1,1.12)" font-size="9.3" text-anchor="end" fill="#222">0.010</text>
<path d="M127.5,483.4 H129.5" stroke="#333" stroke-width="1"/>
<text transform="translate(127.1,487.8) scale(1,1.12)" font-size="9.3" text-anchor="end" fill="#222">0.015</text>
<path d="M127.5,467.2 H129.5" stroke="#333" stroke-width="1"/>
<text transform="translate(127.1,471.6) scale(1,1.12)" font-size="9.3" text-anchor="end" fill="#222">0.020</text>
<path d="M129.5,531.9 V533.9" stroke="#333" stroke-width="1"/>
<text transform="translate(129.5,542.2) scale(1,1.12)" font-size="9" text-anchor="middle" fill="#222">0</text>
<path d="M147.7,531.9 V533.9" stroke="#333" stroke-width="1"/>
<text transform="translate(147.7,542.2) scale(1,1.12)" font-size="9" text-anchor="middle" fill="#222">30</text>
<path d="M166.0,531.9 V533.9" stroke="#333" stroke-width="1"/>
<text transform="translate(166.0,542.2) scale(1,1.12)" font-size="9" text-anchor="middle" fill="#222">60</text>
<path d="M184.2,531.9 V533.9" stroke="#333" stroke-width="1"/>
<text transform="translate(184.2,542.2) scale(1,1.12)" font-size="9" text-anchor="middle" fill="#222">90</text>
<path d="M202.4,531.9 V533.9" stroke="#333" stroke-width="1"/>
<text transform="translate(202.4,542.2) scale(1,1.12)" font-size="9" text-anchor="middle" fill="#222">120</text>
<path d="M220.7,531.9 V533.9" stroke="#333" stroke-width="1"/>
<text transform="translate(220.7,542.2) scale(1,1.12)" font-size="9" text-anchor="middle" fill="#222">150</text>
<path d="M238.9,531.9 V533.9" stroke="#333" stroke-width="1"/>
<text transform="translate(238.9,542.2) scale(1,1.12)" font-size="9" text-anchor="middle" fill="#222">180</text>
<text x="184.2" y="555.6" font-size="9.3" font-weight="bold" text-anchor="middle" fill="#222">Degrees [°]</text>
<text transform="translate(92.7,499) rotate(-90)" font-size="9.2" font-weight="bold" text-anchor="middle" fill="#222" textLength="56.4" lengthAdjust="spacingAndGlyphs">Frequency [-]</text>
<circle cx="130.5" cy="491.5" r="1.55" fill="none" stroke="#222" stroke-width="0.95"/>
<circle cx="131.6" cy="492.1" r="1.55" fill="none" stroke="#222" stroke-width="0.95"/>
<circle cx="132.8" cy="490.6" r="1.55" fill="none" stroke="#222" stroke-width="0.95"/>
<circle cx="133.9" cy="489.9" r="1.55" fill="none" stroke="#222" stroke-width="0.95"/>
<circle cx="135.1" cy="489.9" r="1.55" fill="none" stroke="#222" stroke-width="0.95"/>
<circle cx="136.2" cy="491.7" r="1.55" fill="none" stroke="#222" stroke-width="0.95"/>
<circle cx="137.4" cy="490.7" r="1.55" fill="none" stroke="#222" stroke-width="0.95"/>
<circle cx="138.5" cy="490.6" r="1.55" fill="none" stroke="#222" stroke-width="0.95"/>
<circle cx="139.6" cy="493.1" r="1.55" fill="none" stroke="#222" stroke-width="0.95"/>
<circle cx="140.8" cy="493.4" r="1.55" fill="none" stroke="#222" stroke-width="0.95"/>
<circle cx="141.9" cy="494.3" r="1.55" fill="none" stroke="#222" stroke-width="0.95"/>
<circle cx="143.1" cy="492.8" r="1.55" fill="none" stroke="#222" stroke-width="0.95"/>
<circle cx="144.2" cy="494.3" r="1.55" fill="none" stroke="#222" stroke-width="0.95"/>
<circle cx="145.4" cy="494.6" r="1.55" fill="none" stroke="#222" stroke-width="0.95"/>
<circle cx="146.5" cy="493.1" r="1.55" fill="none" stroke="#222" stroke-width="0.95"/>
<circle cx="147.6" cy="496.1" r="1.55" fill="none" stroke="#222" stroke-width="0.95"/>
<circle cx="148.8" cy="496.2" r="1.55" fill="none" stroke="#222" stroke-width="0.95"/>
<circle cx="149.9" cy="499.2" r="1.55" fill="none" stroke="#222" stroke-width="0.95"/>
<circle cx="151.1" cy="496.7" r="1.55" fill="none" stroke="#222" stroke-width="0.95"/>
<circle cx="152.2" cy="496.6" r="1.55" fill="none" stroke="#222" stroke-width="0.95"/>
<circle cx="153.4" cy="498.8" r="1.55" fill="none" stroke="#222" stroke-width="0.95"/>
<circle cx="154.5" cy="497.8" r="1.55" fill="none" stroke="#222" stroke-width="0.95"/>
<circle cx="155.6" cy="499.1" r="1.55" fill="none" stroke="#222" stroke-width="0.95"/>
<circle cx="156.8" cy="497.8" r="1.55" fill="none" stroke="#222" stroke-width="0.95"/>
<circle cx="157.9" cy="498.8" r="1.55" fill="none" stroke="#222" stroke-width="0.95"/>
<circle cx="159.1" cy="500.0" r="1.55" fill="none" stroke="#222" stroke-width="0.95"/>
<circle cx="160.2" cy="499.8" r="1.55" fill="none" stroke="#222" stroke-width="0.95"/>
<circle cx="161.3" cy="499.3" r="1.55" fill="none" stroke="#222" stroke-width="0.95"/>
<circle cx="162.5" cy="498.0" r="1.55" fill="none" stroke="#222" stroke-width="0.95"/>
<circle cx="163.6" cy="500.2" r="1.55" fill="none" stroke="#222" stroke-width="0.95"/>
<circle cx="164.8" cy="500.0" r="1.55" fill="none" stroke="#222" stroke-width="0.95"/>
<circle cx="165.9" cy="501.0" r="1.55" fill="none" stroke="#222" stroke-width="0.95"/>
<circle cx="167.1" cy="500.6" r="1.55" fill="none" stroke="#222" stroke-width="0.95"/>
<circle cx="168.2" cy="502.0" r="1.55" fill="none" stroke="#222" stroke-width="0.95"/>
<circle cx="169.3" cy="500.7" r="1.55" fill="none" stroke="#222" stroke-width="0.95"/>
<circle cx="170.5" cy="501.3" r="1.55" fill="none" stroke="#222" stroke-width="0.95"/>
<circle cx="171.6" cy="502.1" r="1.55" fill="none" stroke="#222" stroke-width="0.95"/>
<circle cx="172.8" cy="500.0" r="1.55" fill="none" stroke="#222" stroke-width="0.95"/>
<circle cx="173.9" cy="501.2" r="1.55" fill="none" stroke="#222" stroke-width="0.95"/>
<circle cx="175.1" cy="501.3" r="1.55" fill="none" stroke="#222" stroke-width="0.95"/>
<circle cx="176.2" cy="504.6" r="1.55" fill="none" stroke="#222" stroke-width="0.95"/>
<circle cx="177.3" cy="501.7" r="1.55" fill="none" stroke="#222" stroke-width="0.95"/>
<circle cx="178.5" cy="502.5" r="1.55" fill="none" stroke="#222" stroke-width="0.95"/>
<circle cx="179.6" cy="502.2" r="1.55" fill="none" stroke="#222" stroke-width="0.95"/>
<circle cx="180.8" cy="500.8" r="1.55" fill="none" stroke="#222" stroke-width="0.95"/>
<circle cx="181.9" cy="498.9" r="1.55" fill="none" stroke="#222" stroke-width="0.95"/>
<circle cx="183.1" cy="502.0" r="1.55" fill="none" stroke="#222" stroke-width="0.95"/>
<circle cx="184.2" cy="500.0" r="1.55" fill="none" stroke="#222" stroke-width="0.95"/>
<circle cx="185.3" cy="501.2" r="1.55" fill="none" stroke="#222" stroke-width="0.95"/>
<circle cx="186.5" cy="498.4" r="1.55" fill="none" stroke="#222" stroke-width="0.95"/>
<circle cx="187.6" cy="499.3" r="1.55" fill="none" stroke="#222" stroke-width="0.95"/>
<circle cx="188.8" cy="501.3" r="1.55" fill="none" stroke="#222" stroke-width="0.95"/>
<circle cx="189.9" cy="501.3" r="1.55" fill="none" stroke="#222" stroke-width="0.95"/>
<circle cx="191.1" cy="497.5" r="1.55" fill="none" stroke="#222" stroke-width="0.95"/>
<circle cx="192.2" cy="497.2" r="1.55" fill="none" stroke="#222" stroke-width="0.95"/>
<circle cx="193.3" cy="498.6" r="1.55" fill="none" stroke="#222" stroke-width="0.95"/>
<circle cx="194.5" cy="499.3" r="1.55" fill="none" stroke="#222" stroke-width="0.95"/>
<circle cx="195.6" cy="498.3" r="1.55" fill="none" stroke="#222" stroke-width="0.95"/>
<circle cx="196.8" cy="498.1" r="1.55" fill="none" stroke="#222" stroke-width="0.95"/>
<circle cx="197.9" cy="496.2" r="1.55" fill="none" stroke="#222" stroke-width="0.95"/>
<circle cx="199.1" cy="497.9" r="1.55" fill="none" stroke="#222" stroke-width="0.95"/>
<circle cx="200.2" cy="498.3" r="1.55" fill="none" stroke="#222" stroke-width="0.95"/>
<circle cx="201.3" cy="496.0" r="1.55" fill="none" stroke="#222" stroke-width="0.95"/>
<circle cx="202.5" cy="494.4" r="1.55" fill="none" stroke="#222" stroke-width="0.95"/>
<circle cx="203.6" cy="495.0" r="1.55" fill="none" stroke="#222" stroke-width="0.95"/>
<circle cx="204.8" cy="496.6" r="1.55" fill="none" stroke="#222" stroke-width="0.95"/>
<circle cx="205.9" cy="493.1" r="1.55" fill="none" stroke="#222" stroke-width="0.95"/>
<circle cx="207.1" cy="494.9" r="1.55" fill="none" stroke="#222" stroke-width="0.95"/>
<circle cx="208.2" cy="493.3" r="1.55" fill="none" stroke="#222" stroke-width="0.95"/>
<circle cx="209.3" cy="494.1" r="1.55" fill="none" stroke="#222" stroke-width="0.95"/>
<circle cx="210.5" cy="493.6" r="1.55" fill="none" stroke="#222" stroke-width="0.95"/>
<circle cx="211.6" cy="493.6" r="1.55" fill="none" stroke="#222" stroke-width="0.95"/>
<circle cx="212.8" cy="495.2" r="1.55" fill="none" stroke="#222" stroke-width="0.95"/>
<circle cx="213.9" cy="493.5" r="1.55" fill="none" stroke="#222" stroke-width="0.95"/>
<circle cx="215.0" cy="494.3" r="1.55" fill="none" stroke="#222" stroke-width="0.95"/>
<circle cx="216.2" cy="492.1" r="1.55" fill="none" stroke="#222" stroke-width="0.95"/>
<circle cx="217.3" cy="491.3" r="1.55" fill="none" stroke="#222" stroke-width="0.95"/>
<circle cx="218.5" cy="492.1" r="1.55" fill="none" stroke="#222" stroke-width="0.95"/>
<circle cx="219.6" cy="487.6" r="1.55" fill="none" stroke="#222" stroke-width="0.95"/>
<circle cx="220.8" cy="490.9" r="1.55" fill="none" stroke="#222" stroke-width="0.95"/>
<circle cx="221.9" cy="490.9" r="1.55" fill="none" stroke="#222" stroke-width="0.95"/>
<circle cx="223.0" cy="488.8" r="1.55" fill="none" stroke="#222" stroke-width="0.95"/>
<circle cx="224.2" cy="490.7" r="1.55" fill="none" stroke="#222" stroke-width="0.95"/>
<circle cx="225.3" cy="489.1" r="1.55" fill="none" stroke="#222" stroke-width="0.95"/>
<circle cx="226.5" cy="486.3" r="1.55" fill="none" stroke="#222" stroke-width="0.95"/>
<circle cx="227.6" cy="489.0" r="1.55" fill="none" stroke="#222" stroke-width="0.95"/>
<circle cx="228.8" cy="487.7" r="1.55" fill="none" stroke="#222" stroke-width="0.95"/>
<circle cx="229.9" cy="488.1" r="1.55" fill="none" stroke="#222" stroke-width="0.95"/>
<circle cx="231.0" cy="488.6" r="1.55" fill="none" stroke="#222" stroke-width="0.95"/>
<circle cx="232.2" cy="490.4" r="1.55" fill="none" stroke="#222" stroke-width="0.95"/>
<circle cx="233.3" cy="488.9" r="1.55" fill="none" stroke="#222" stroke-width="0.95"/>
<circle cx="234.5" cy="488.8" r="1.55" fill="none" stroke="#222" stroke-width="0.95"/>
<circle cx="235.6" cy="489.3" r="1.55" fill="none" stroke="#222" stroke-width="0.95"/>
<circle cx="236.8" cy="486.7" r="1.55" fill="none" stroke="#222" stroke-width="0.95"/>
<circle cx="237.9" cy="491.5" r="1.55" fill="none" stroke="#222" stroke-width="0.95"/>
<path d="M130.2,489.7 C132.4,490.4 138.7,492.6 143.2,494.0 C147.7,495.4 151.5,496.9 157.0,498.3 C162.5,499.7 170.2,502.0 176.0,502.1 C181.8,502.2 186.9,500.1 191.5,499.1 C196.1,498.1 199.0,497.3 203.6,496.0 C208.2,494.7 214.8,492.6 219.1,491.4 C223.4,490.2 226.5,489.2 229.4,488.8 C232.3,488.4 234.7,488.5 236.3,488.8 C237.9,489.1 238.5,490.2 238.9,490.5" stroke="#ee1820" stroke-width="1.45" fill="none"/>
<path d="M312.6,466.7 V532.9 H423.4" stroke="#333" stroke-width="1.1" fill="none"/>
<path d="M310.6,532.9 H312.6" stroke="#333" stroke-width="1"/>
<text transform="translate(310.2,537.3) scale(1,1.12)" font-size="9.3" text-anchor="end" fill="#222">0.000</text>
<path d="M310.6,516.5 H312.6" stroke="#333" stroke-width="1"/>
<text transform="translate(310.2,520.9) scale(1,1.12)" font-size="9.3" text-anchor="end" fill="#222">0.005</text>
<path d="M310.6,500.0 H312.6" stroke="#333" stroke-width="1"/>
<text transform="translate(310.2,504.4) scale(1,1.12)" font-size="9.3" text-anchor="end" fill="#222">0.010</text>
<path d="M310.6,483.6 H312.6" stroke="#333" stroke-width="1"/>
<text transform="translate(310.2,488.0) scale(1,1.12)" font-size="9.3" text-anchor="end" fill="#222">0.015</text>
<path d="M310.6,467.2 H312.6" stroke="#333" stroke-width="1"/>
<text transform="translate(310.2,471.6) scale(1,1.12)" font-size="9.3" text-anchor="end" fill="#222">0.020</text>
<path d="M312.6,532.9 V534.9" stroke="#333" stroke-width="1"/>
<text transform="translate(312.6,543.2) scale(1,1.12)" font-size="9" text-anchor="middle" fill="#222">0</text>
<path d="M331.1,532.9 V534.9" stroke="#333" stroke-width="1"/>
<text transform="translate(331.1,543.2) scale(1,1.12)" font-size="9" text-anchor="middle" fill="#222">30</text>
<path d="M349.5,532.9 V534.9" stroke="#333" stroke-width="1"/>
<text transform="translate(349.5,543.2) scale(1,1.12)" font-size="9" text-anchor="middle" fill="#222">60</text>
<path d="M368.0,532.9 V534.9" stroke="#333" stroke-width="1"/>
<text transform="translate(368.0,543.2) scale(1,1.12)" font-size="9" text-anchor="middle" fill="#222">90</text>
<path d="M386.5,532.9 V534.9" stroke="#333" stroke-width="1"/>
<text transform="translate(386.5,543.2) scale(1,1.12)" font-size="9" text-anchor="middle" fill="#222">120</text>
<path d="M404.9,532.9 V534.9" stroke="#333" stroke-width="1"/>
<text transform="translate(404.9,543.2) scale(1,1.12)" font-size="9" text-anchor="middle" fill="#222">150</text>
<path d="M423.4,532.9 V534.9" stroke="#333" stroke-width="1"/>
<text transform="translate(423.4,543.2) scale(1,1.12)" font-size="9" text-anchor="middle" fill="#222">180</text>
<text x="368.0" y="556.6" font-size="9.3" font-weight="bold" text-anchor="middle" fill="#222">Degrees [°]</text>
<text transform="translate(274.9,500.4) rotate(-90)" font-size="9.2" font-weight="bold" text-anchor="middle" fill="#222" textLength="59" lengthAdjust="spacingAndGlyphs">Frequency [-]</text>
<circle cx="313.6" cy="489.3" r="1.55" fill="none" stroke="#222" stroke-width="0.95"/>
<circle cx="314.8" cy="485.7" r="1.55" fill="none" stroke="#222" stroke-width="0.95"/>
<circle cx="315.9" cy="487.4" r="1.55" fill="none" stroke="#222" stroke-width="0.95"/>
<circle cx="317.1" cy="487.4" r="1.55" fill="none" stroke="#222" stroke-width="0.95"/>
<circle cx="318.2" cy="488.6" r="1.55" fill="none" stroke="#222" stroke-width="0.95"/>
<circle cx="319.4" cy="486.0" r="1.55" fill="none" stroke="#222" stroke-width="0.95"/>
<circle cx="320.5" cy="487.5" r="1.55" fill="none" stroke="#222" stroke-width="0.95"/>
<circle cx="321.7" cy="487.4" r="1.55" fill="none" stroke="#222" stroke-width="0.95"/>
<circle cx="322.9" cy="487.3" r="1.55" fill="none" stroke="#222" stroke-width="0.95"/>
<circle cx="324.0" cy="487.9" r="1.55" fill="none" stroke="#222" stroke-width="0.95"/>
<circle cx="325.2" cy="488.6" r="1.55" fill="none" stroke="#222" stroke-width="0.95"/>
<circle cx="326.3" cy="489.7" r="1.55" fill="none" stroke="#222" stroke-width="0.95"/>
<circle cx="327.5" cy="489.7" r="1.55" fill="none" stroke="#222" stroke-width="0.95"/>
<circle cx="328.6" cy="492.2" r="1.55" fill="none" stroke="#222" stroke-width="0.95"/>
<circle cx="329.8" cy="491.7" r="1.55" fill="none" stroke="#222" stroke-width="0.95"/>
<circle cx="331.0" cy="489.1" r="1.55" fill="none" stroke="#222" stroke-width="0.95"/>
<circle cx="332.1" cy="495.6" r="1.55" fill="none" stroke="#222" stroke-width="0.95"/>
<circle cx="333.3" cy="494.3" r="1.55" fill="none" stroke="#222" stroke-width="0.95"/>
<circle cx="334.4" cy="494.7" r="1.55" fill="none" stroke="#222" stroke-width="0.95"/>
<circle cx="335.6" cy="496.8" r="1.55" fill="none" stroke="#222" stroke-width="0.95"/>
<circle cx="336.7" cy="497.5" r="1.55" fill="none" stroke="#222" stroke-width="0.95"/>
<circle cx="337.9" cy="497.9" r="1.55" fill="none" stroke="#222" stroke-width="0.95"/>
<circle cx="339.1" cy="497.2" r="1.55" fill="none" stroke="#222" stroke-width="0.95"/>
<circle cx="340.2" cy="498.9" r="1.55" fill="none" stroke="#222" stroke-width="0.95"/>
<circle cx="341.4" cy="497.1" r="1.55" fill="none" stroke="#222" stroke-width="0.95"/>
<circle cx="342.5" cy="501.4" r="1.55" fill="none" stroke="#222" stroke-width="0.95"/>
<circle cx="343.7" cy="498.4" r="1.55" fill="none" stroke="#222" stroke-width="0.95"/>
<circle cx="344.9" cy="500.2" r="1.55" fill="none" stroke="#222" stroke-width="0.95"/>
<circle cx="346.0" cy="500.9" r="1.55" fill="none" stroke="#222" stroke-width="0.95"/>
<circle cx="347.2" cy="501.6" r="1.55" fill="none" stroke="#222" stroke-width="0.95"/>
<circle cx="348.3" cy="501.4" r="1.55" fill="none" stroke="#222" stroke-width="0.95"/>
<circle cx="349.5" cy="502.8" r="1.55" fill="none" stroke="#222" stroke-width="0.95"/>
<circle cx="350.6" cy="497.9" r="1.55" fill="none" stroke="#222" stroke-width="0.95"/>
<circle cx="351.8" cy="502.6" r="1.55" fill="none" stroke="#222" stroke-width="0.95"/>
<circle cx="353.0" cy="502.8" r="1.55" fill="none" stroke="#222" stroke-width="0.95"/>
<circle cx="354.1" cy="502.7" r="1.55" fill="none" stroke="#222" stroke-width="0.95"/>
<circle cx="355.3" cy="505.5" r="1.55" fill="none" stroke="#222" stroke-width="0.95"/>
<circle cx="356.4" cy="502.5" r="1.55" fill="none" stroke="#222" stroke-width="0.95"/>
<circle cx="357.6" cy="503.9" r="1.55" fill="none" stroke="#222" stroke-width="0.95"/>
<circle cx="358.7" cy="501.6" r="1.55" fill="none" stroke="#222" stroke-width="0.95"/>
<circle cx="359.9" cy="504.8" r="1.55" fill="none" stroke="#222" stroke-width="0.95"/>
<circle cx="361.1" cy="502.6" r="1.55" fill="none" stroke="#222" stroke-width="0.95"/>
<circle cx="362.2" cy="502.9" r="1.55" fill="none" stroke="#222" stroke-width="0.95"/>
<circle cx="363.4" cy="508.2" r="1.55" fill="none" stroke="#222" stroke-width="0.95"/>
<circle cx="364.5" cy="505.9" r="1.55" fill="none" stroke="#222" stroke-width="0.95"/>
<circle cx="365.7" cy="504.9" r="1.55" fill="none" stroke="#222" stroke-width="0.95"/>
<circle cx="366.8" cy="505.1" r="1.55" fill="none" stroke="#222" stroke-width="0.95"/>
<circle cx="368.0" cy="502.9" r="1.55" fill="none" stroke="#222" stroke-width="0.95"/>
<circle cx="369.2" cy="503.3" r="1.55" fill="none" stroke="#222" stroke-width="0.95"/>
<circle cx="370.3" cy="505.1" r="1.55" fill="none" stroke="#222" stroke-width="0.95"/>
<circle cx="371.5" cy="501.7" r="1.55" fill="none" stroke="#222" stroke-width="0.95"/>
<circle cx="372.6" cy="504.8" r="1.55" fill="none" stroke="#222" stroke-width="0.95"/>
<circle cx="373.8" cy="502.0" r="1.55" fill="none" stroke="#222" stroke-width="0.95"/>
<circle cx="374.9" cy="504.1" r="1.55" fill="none" stroke="#222" stroke-width="0.95"/>
<circle cx="376.1" cy="502.1" r="1.55" fill="none" stroke="#222" stroke-width="0.95"/>
<circle cx="377.3" cy="505.6" r="1.55" fill="none" stroke="#222" stroke-width="0.95"/>
<circle cx="378.4" cy="504.2" r="1.55" fill="none" stroke="#222" stroke-width="0.95"/>
<circle cx="379.6" cy="501.9" r="1.55" fill="none" stroke="#222" stroke-width="0.95"/>
<circle cx="380.7" cy="499.7" r="1.55" fill="none" stroke="#222" stroke-width="0.95"/>
<circle cx="381.9" cy="500.9" r="1.55" fill="none" stroke="#222" stroke-width="0.95"/>
<circle cx="383.0" cy="501.5" r="1.55" fill="none" stroke="#222" stroke-width="0.95"/>
<circle cx="384.2" cy="499.9" r="1.55" fill="none" stroke="#222" stroke-width="0.95"/>
<circle cx="385.4" cy="501.3" r="1.55" fill="none" stroke="#222" stroke-width="0.95"/>
<circle cx="386.5" cy="501.7" r="1.55" fill="none" stroke="#222" stroke-width="0.95"/>
<circle cx="387.7" cy="499.9" r="1.55" fill="none" stroke="#222" stroke-width="0.95"/>
<circle cx="388.8" cy="498.9" r="1.55" fill="none" stroke="#222" stroke-width="0.95"/>
<circle cx="390.0" cy="500.0" r="1.55" fill="none" stroke="#222" stroke-width="0.95"/>
<circle cx="391.1" cy="498.1" r="1.55" fill="none" stroke="#222" stroke-width="0.95"/>
<circle cx="392.3" cy="499.1" r="1.55" fill="none" stroke="#222" stroke-width="0.95"/>
<circle cx="393.5" cy="497.1" r="1.55" fill="none" stroke="#222" stroke-width="0.95"/>
<circle cx="394.6" cy="499.2" r="1.55" fill="none" stroke="#222" stroke-width="0.95"/>
<circle cx="395.8" cy="496.2" r="1.55" fill="none" stroke="#222" stroke-width="0.95"/>
<circle cx="396.9" cy="494.7" r="1.55" fill="none" stroke="#222" stroke-width="0.95"/>
<circle cx="398.1" cy="495.6" r="1.55" fill="none" stroke="#222" stroke-width="0.95"/>
<circle cx="399.3" cy="493.9" r="1.55" fill="none" stroke="#222" stroke-width="0.95"/>
<circle cx="400.4" cy="492.7" r="1.55" fill="none" stroke="#222" stroke-width="0.95"/>
<circle cx="401.6" cy="493.0" r="1.55" fill="none" stroke="#222" stroke-width="0.95"/>
<circle cx="402.7" cy="493.4" r="1.55" fill="none" stroke="#222" stroke-width="0.95"/>
<circle cx="403.9" cy="488.7" r="1.55" fill="none" stroke="#222" stroke-width="0.95"/>
<circle cx="405.0" cy="490.8" r="1.55" fill="none" stroke="#222" stroke-width="0.95"/>
<circle cx="406.2" cy="489.8" r="1.55" fill="none" stroke="#222" stroke-width="0.95"/>
<circle cx="407.4" cy="489.1" r="1.55" fill="none" stroke="#222" stroke-width="0.95"/>
<circle cx="408.5" cy="489.7" r="1.55" fill="none" stroke="#222" stroke-width="0.95"/>
<circle cx="409.7" cy="486.5" r="1.55" fill="none" stroke="#222" stroke-width="0.95"/>
<circle cx="410.8" cy="488.7" r="1.55" fill="none" stroke="#222" stroke-width="0.95"/>
<circle cx="412.0" cy="487.1" r="1.55" fill="none" stroke="#222" stroke-width="0.95"/>
<circle cx="413.1" cy="487.1" r="1.55" fill="none" stroke="#222" stroke-width="0.95"/>
<circle cx="414.3" cy="486.2" r="1.55" fill="none" stroke="#222" stroke-width="0.95"/>
<circle cx="415.5" cy="485.7" r="1.55" fill="none" stroke="#222" stroke-width="0.95"/>
<circle cx="416.6" cy="485.0" r="1.55" fill="none" stroke="#222" stroke-width="0.95"/>
<circle cx="417.8" cy="485.8" r="1.55" fill="none" stroke="#222" stroke-width="0.95"/>
<circle cx="418.9" cy="487.9" r="1.55" fill="none" stroke="#222" stroke-width="0.95"/>
<circle cx="420.1" cy="486.6" r="1.55" fill="none" stroke="#222" stroke-width="0.95"/>
<circle cx="421.2" cy="486.4" r="1.55" fill="none" stroke="#222" stroke-width="0.95"/>
<circle cx="422.4" cy="486.1" r="1.55" fill="none" stroke="#222" stroke-width="0.95"/>
<path d="M312.2,485.9 C314.4,486.5 321.0,487.4 325.2,489.3 C329.4,491.2 333.0,495.4 337.3,497.6 C341.6,499.9 346.8,501.5 351.1,502.8 C355.4,504.1 359.5,505.0 363.2,505.3 C366.9,505.6 369.8,505.2 373.5,504.5 C377.2,503.8 381.6,502.4 385.6,501.0 C389.6,499.6 394.0,497.9 397.7,495.9 C401.4,493.9 404.6,490.8 408.0,489.0 C411.4,487.2 415.8,485.8 418.3,485.2 C420.8,484.6 422.2,485.4 423.0,485.5" stroke="#ee1820" stroke-width="1.45" fill="none"/>
<path d="M500.4,466.7 V533 H610.4" stroke="#333" stroke-width="1.1" fill="none"/>
<path d="M498.4,533.0 H500.4" stroke="#333" stroke-width="1"/>
<text transform="translate(498.0,537.4) scale(1,1.12)" font-size="9.3" text-anchor="end" fill="#222">0.000</text>
<path d="M498.4,516.5 H500.4" stroke="#333" stroke-width="1"/>
<text transform="translate(498.0,520.9) scale(1,1.12)" font-size="9.3" text-anchor="end" fill="#222">0.005</text>
<path d="M498.4,500.1 H500.4" stroke="#333" stroke-width="1"/>
<text transform="translate(498.0,504.5) scale(1,1.12)" font-size="9.3" text-anchor="end" fill="#222">0.010</text>
<path d="M498.4,483.6 H500.4" stroke="#333" stroke-width="1"/>
<text transform="translate(498.0,488.0) scale(1,1.12)" font-size="9.3" text-anchor="end" fill="#222">0.015</text>
<path d="M498.4,467.2 H500.4" stroke="#333" stroke-width="1"/>
<text transform="translate(498.0,471.6) scale(1,1.12)" font-size="9.3" text-anchor="end" fill="#222">0.020</text>
<path d="M500.4,533 V535" stroke="#333" stroke-width="1"/>
<text transform="translate(500.4,543.3) scale(1,1.12)" font-size="9" text-anchor="middle" fill="#222">0</text>
<path d="M518.7,533 V535" stroke="#333" stroke-width="1"/>
<text transform="translate(518.7,543.3) scale(1,1.12)" font-size="9" text-anchor="middle" fill="#222">30</text>
<path d="M537.1,533 V535" stroke="#333" stroke-width="1"/>
<text transform="translate(537.1,543.3) scale(1,1.12)" font-size="9" text-anchor="middle" fill="#222">60</text>
<path d="M555.4,533 V535" stroke="#333" stroke-width="1"/>
<text transform="translate(555.4,543.3) scale(1,1.12)" font-size="9" text-anchor="middle" fill="#222">90</text>
<path d="M573.7,533 V535" stroke="#333" stroke-width="1"/>
<text transform="translate(573.7,543.3) scale(1,1.12)" font-size="9" text-anchor="middle" fill="#222">120</text>
<path d="M592.1,533 V535" stroke="#333" stroke-width="1"/>
<text transform="translate(592.1,543.3) scale(1,1.12)" font-size="9" text-anchor="middle" fill="#222">150</text>
<path d="M610.4,533 V535" stroke="#333" stroke-width="1"/>
<text transform="translate(610.4,543.3) scale(1,1.12)" font-size="9" text-anchor="middle" fill="#222">180</text>
<text x="555.4" y="556.7" font-size="9.3" font-weight="bold" text-anchor="middle" fill="#222">Degrees [°]</text>
<text transform="translate(463.3,500.4) rotate(-90)" font-size="9.2" font-weight="bold" text-anchor="middle" fill="#222" textLength="59" lengthAdjust="spacingAndGlyphs">Frequency [-]</text>
<circle cx="501.4" cy="492.6" r="1.55" fill="none" stroke="#222" stroke-width="0.95"/>
<circle cx="502.5" cy="495.3" r="1.55" fill="none" stroke="#222" stroke-width="0.95"/>
<circle cx="503.7" cy="491.2" r="1.55" fill="none" stroke="#222" stroke-width="0.95"/>
<circle cx="504.8" cy="495.4" r="1.55" fill="none" stroke="#222" stroke-width="0.95"/>
<circle cx="506.0" cy="493.3" r="1.55" fill="none" stroke="#222" stroke-width="0.95"/>
<circle cx="507.1" cy="493.6" r="1.55" fill="none" stroke="#222" stroke-width="0.95"/>
<circle cx="508.3" cy="498.3" r="1.55" fill="none" stroke="#222" stroke-width="0.95"/>
<circle cx="509.4" cy="495.1" r="1.55" fill="none" stroke="#222" stroke-width="0.95"/>
<circle cx="510.6" cy="495.0" r="1.55" fill="none" stroke="#222" stroke-width="0.95"/>
<circle cx="511.7" cy="496.9" r="1.55" fill="none" stroke="#222" stroke-width="0.95"/>
<circle cx="512.9" cy="498.1" r="1.55" fill="none" stroke="#222" stroke-width="0.95"/>
<circle cx="514.0" cy="496.0" r="1.55" fill="none" stroke="#222" stroke-width="0.95"/>
<circle cx="515.2" cy="497.6" r="1.55" fill="none" stroke="#222" stroke-width="0.95"/>
<circle cx="516.3" cy="494.7" r="1.55" fill="none" stroke="#222" stroke-width="0.95"/>
<circle cx="517.5" cy="496.2" r="1.55" fill="none" stroke="#222" stroke-width="0.95"/>
<circle cx="518.6" cy="496.4" r="1.55" fill="none" stroke="#222" stroke-width="0.95"/>
<circle cx="519.8" cy="494.9" r="1.55" fill="none" stroke="#222" stroke-width="0.95"/>
<circle cx="520.9" cy="494.8" r="1.55" fill="none" stroke="#222" stroke-width="0.95"/>
<circle cx="522.1" cy="494.9" r="1.55" fill="none" stroke="#222" stroke-width="0.95"/>
<circle cx="523.2" cy="497.9" r="1.55" fill="none" stroke="#222" stroke-width="0.95"/>
<circle cx="524.4" cy="498.3" r="1.55" fill="none" stroke="#222" stroke-width="0.95"/>
<circle cx="525.5" cy="498.3" r="1.55" fill="none" stroke="#222" stroke-width="0.95"/>
<circle cx="526.7" cy="499.4" r="1.55" fill="none" stroke="#222" stroke-width="0.95"/>
<circle cx="527.8" cy="496.9" r="1.55" fill="none" stroke="#222" stroke-width="0.95"/>
<circle cx="529.0" cy="499.7" r="1.55" fill="none" stroke="#222" stroke-width="0.95"/>
<circle cx="530.1" cy="500.6" r="1.55" fill="none" stroke="#222" stroke-width="0.95"/>
<circle cx="531.3" cy="501.7" r="1.55" fill="none" stroke="#222" stroke-width="0.95"/>
<circle cx="532.4" cy="498.6" r="1.55" fill="none" stroke="#222" stroke-width="0.95"/>
<circle cx="533.6" cy="499.5" r="1.55" fill="none" stroke="#222" stroke-width="0.95"/>
<circle cx="534.7" cy="496.4" r="1.55" fill="none" stroke="#222" stroke-width="0.95"/>
<circle cx="535.9" cy="499.4" r="1.55" fill="none" stroke="#222" stroke-width="0.95"/>
<circle cx="537.0" cy="496.1" r="1.55" fill="none" stroke="#222" stroke-width="0.95"/>
<circle cx="538.2" cy="497.7" r="1.55" fill="none" stroke="#222" stroke-width="0.95"/>
<circle cx="539.3" cy="502.8" r="1.55" fill="none" stroke="#222" stroke-width="0.95"/>
<circle cx="540.5" cy="496.3" r="1.55" fill="none" stroke="#222" stroke-width="0.95"/>
<circle cx="541.6" cy="502.3" r="1.55" fill="none" stroke="#222" stroke-width="0.95"/>
<circle cx="542.8" cy="501.4" r="1.55" fill="none" stroke="#222" stroke-width="0.95"/>
<circle cx="543.9" cy="500.2" r="1.55" fill="none" stroke="#222" stroke-width="0.95"/>
<circle cx="545.1" cy="501.8" r="1.55" fill="none" stroke="#222" stroke-width="0.95"/>
<circle cx="546.2" cy="502.0" r="1.55" fill="none" stroke="#222" stroke-width="0.95"/>
<circle cx="547.4" cy="503.1" r="1.55" fill="none" stroke="#222" stroke-width="0.95"/>
<circle cx="548.5" cy="500.4" r="1.55" fill="none" stroke="#222" stroke-width="0.95"/>
<circle cx="549.7" cy="499.4" r="1.55" fill="none" stroke="#222" stroke-width="0.95"/>
<circle cx="550.8" cy="499.2" r="1.55" fill="none" stroke="#222" stroke-width="0.95"/>
<circle cx="552.0" cy="498.2" r="1.55" fill="none" stroke="#222" stroke-width="0.95"/>
<circle cx="553.1" cy="499.9" r="1.55" fill="none" stroke="#222" stroke-width="0.95"/>
<circle cx="554.3" cy="498.2" r="1.55" fill="none" stroke="#222" stroke-width="0.95"/>
<circle cx="555.4" cy="501.7" r="1.55" fill="none" stroke="#222" stroke-width="0.95"/>
<circle cx="556.5" cy="495.6" r="1.55" fill="none" stroke="#222" stroke-width="0.95"/>
<circle cx="557.7" cy="496.9" r="1.55" fill="none" stroke="#222" stroke-width="0.95"/>
<circle cx="558.8" cy="497.0" r="1.55" fill="none" stroke="#222" stroke-width="0.95"/>
<circle cx="560.0" cy="494.5" r="1.55" fill="none" stroke="#222" stroke-width="0.95"/>
<circle cx="561.1" cy="502.3" r="1.55" fill="none" stroke="#222" stroke-width="0.95"/>
<circle cx="562.3" cy="493.2" r="1.55" fill="none" stroke="#222" stroke-width="0.95"/>
<circle cx="563.4" cy="497.0" r="1.55" fill="none" stroke="#222" stroke-width="0.95"/>
<circle cx="564.6" cy="496.0" r="1.55" fill="none" stroke="#222" stroke-width="0.95"/>
<circle cx="565.7" cy="499.9" r="1.55" fill="none" stroke="#222" stroke-width="0.95"/>
<circle cx="566.9" cy="492.2" r="1.55" fill="none" stroke="#222" stroke-width="0.95"/>
<circle cx="568.0" cy="497.8" r="1.55" fill="none" stroke="#222" stroke-width="0.95"/>
<circle cx="569.2" cy="493.7" r="1.55" fill="none" stroke="#222" stroke-width="0.95"/>
<circle cx="570.3" cy="494.4" r="1.55" fill="none" stroke="#222" stroke-width="0.95"/>
<circle cx="571.5" cy="492.8" r="1.55" fill="none" stroke="#222" stroke-width="0.95"/>
<circle cx="572.6" cy="495.0" r="1.55" fill="none" stroke="#222" stroke-width="0.95"/>
<circle cx="573.8" cy="491.0" r="1.55" fill="none" stroke="#222" stroke-width="0.95"/>
<circle cx="574.9" cy="492.8" r="1.55" fill="none" stroke="#222" stroke-width="0.95"/>
<circle cx="576.1" cy="493.3" r="1.55" fill="none" stroke="#222" stroke-width="0.95"/>
<circle cx="577.2" cy="495.9" r="1.55" fill="none" stroke="#222" stroke-width="0.95"/>
<circle cx="578.4" cy="487.1" r="1.55" fill="none" stroke="#222" stroke-width="0.95"/>
<circle cx="579.5" cy="494.6" r="1.55" fill="none" stroke="#222" stroke-width="0.95"/>
<circle cx="580.7" cy="493.1" r="1.55" fill="none" stroke="#222" stroke-width="0.95"/>
<circle cx="581.8" cy="490.0" r="1.55" fill="none" stroke="#222" stroke-width="0.95"/>
<circle cx="583.0" cy="491.2" r="1.55" fill="none" stroke="#222" stroke-width="0.95"/>
<circle cx="584.1" cy="489.3" r="1.55" fill="none" stroke="#222" stroke-width="0.95"/>
<circle cx="585.3" cy="493.2" r="1.55" fill="none" stroke="#222" stroke-width="0.95"/>
<circle cx="586.4" cy="490.1" r="1.55" fill="none" stroke="#222" stroke-width="0.95"/>
<circle cx="587.6" cy="489.2" r="1.55" fill="none" stroke="#222" stroke-width="0.95"/>
<circle cx="588.7" cy="489.0" r="1.55" fill="none" stroke="#222" stroke-width="0.95"/>
<circle cx="589.9" cy="488.9" r="1.55" fill="none" stroke="#222" stroke-width="0.95"/>
<circle cx="591.0" cy="488.8" r="1.55" fill="none" stroke="#222" stroke-width="0.95"/>
<circle cx="592.2" cy="487.3" r="1.55" fill="none" stroke="#222" stroke-width="0.95"/>
<circle cx="593.3" cy="493.0" r="1.55" fill="none" stroke="#222" stroke-width="0.95"/>
<circle cx="594.5" cy="485.0" r="1.55" fill="none" stroke="#222" stroke-width="0.95"/>
<circle cx="595.6" cy="481.4" r="1.55" fill="none" stroke="#222" stroke-width="0.95"/>
<circle cx="596.8" cy="488.5" r="1.55" fill="none" stroke="#222" stroke-width="0.95"/>
<circle cx="597.9" cy="488.6" r="1.55" fill="none" stroke="#222" stroke-width="0.95"/>
<circle cx="599.1" cy="489.9" r="1.55" fill="none" stroke="#222" stroke-width="0.95"/>
<circle cx="600.2" cy="488.9" r="1.55" fill="none" stroke="#222" stroke-width="0.95"/>
<circle cx="601.4" cy="489.2" r="1.55" fill="none" stroke="#222" stroke-width="0.95"/>
<circle cx="602.5" cy="490.4" r="1.55" fill="none" stroke="#222" stroke-width="0.95"/>
<circle cx="603.7" cy="492.1" r="1.55" fill="none" stroke="#222" stroke-width="0.95"/>
<circle cx="604.8" cy="489.7" r="1.55" fill="none" stroke="#222" stroke-width="0.95"/>
<circle cx="606.0" cy="490.4" r="1.55" fill="none" stroke="#222" stroke-width="0.95"/>
<circle cx="607.1" cy="495.5" r="1.55" fill="none" stroke="#222" stroke-width="0.95"/>
<circle cx="608.3" cy="493.2" r="1.55" fill="none" stroke="#222" stroke-width="0.95"/>
<circle cx="609.4" cy="490.7" r="1.55" fill="none" stroke="#222" stroke-width="0.95"/>
<circle cx="501.2" cy="473.8" r="1.55" fill="none" stroke="#222" stroke-width="0.95"/>
<circle cx="530.5" cy="505.3" r="1.55" fill="none" stroke="#222" stroke-width="0.95"/>
<circle cx="571.9" cy="489.8" r="1.55" fill="none" stroke="#222" stroke-width="0.95"/>
<circle cx="599.4" cy="495.9" r="1.55" fill="none" stroke="#222" stroke-width="0.95"/>
<circle cx="602.9" cy="497.6" r="1.55" fill="none" stroke="#222" stroke-width="0.95"/>
<path d="M500.3,492.1 C502.5,492.7 508.2,494.5 513.2,495.9 C518.2,497.2 524.8,499.3 530.5,500.2 C536.2,501.1 542.5,501.3 547.7,501.0 C552.9,500.7 557.2,499.7 561.5,498.4 C565.8,497.1 569.6,494.7 573.6,493.3 C577.6,491.9 582.0,490.6 585.7,489.8 C589.4,489.0 593.1,488.6 596.0,488.6 C598.9,488.6 600.6,489.1 602.9,489.8 C605.2,490.5 608.6,492.3 609.8,492.8" stroke="#ee1820" stroke-width="1.45" fill="none"/>
<text x="-0.5" y="579.8" font-size="17.5">D</text>
<path d="M60.1,591.5 V766.3 H322.2" stroke="#111" stroke-width="1.8" fill="none"/>
<path d="M55,766.3 H60.1" stroke="#111" stroke-width="1.6"/>
<text x="53.6" y="770.5" font-size="11.8" font-weight="bold" text-anchor="end" fill="#111">0</text>
<path d="M55,731.4 H60.1" stroke="#111" stroke-width="1.6"/>
<text x="53.6" y="735.6" font-size="11.8" font-weight="bold" text-anchor="end" fill="#111">1</text>
<path d="M55,696.5 H60.1" stroke="#111" stroke-width="1.6"/>
<text x="53.6" y="700.7" font-size="11.8" font-weight="bold" text-anchor="end" fill="#111">2</text>
<path d="M55,661.6 H60.1" stroke="#111" stroke-width="1.6"/>
<text x="53.6" y="665.8" font-size="11.8" font-weight="bold" text-anchor="end" fill="#111">3</text>
<path d="M55,626.7 H60.1" stroke="#111" stroke-width="1.6"/>
<text x="53.6" y="630.9" font-size="11.8" font-weight="bold" text-anchor="end" fill="#111">4</text>
<path d="M55,591.8 H60.1" stroke="#111" stroke-width="1.6"/>
<text x="53.6" y="596.0" font-size="11.8" font-weight="bold" text-anchor="end" fill="#111">5</text>
<path d="M103.7,766.3 V770.8" stroke="#111" stroke-width="1.6"/>
<text x="103.7" y="784.4" font-size="12.9" font-weight="bold" text-anchor="middle" fill="#111">PCL-BU</text>
<path d="M190.6,766.3 V770.8" stroke="#111" stroke-width="1.6"/>
<text x="190.6" y="784.4" font-size="12.9" font-weight="bold" text-anchor="middle" fill="#111">+ BO</text>
<path d="M278.3,766.3 V770.8" stroke="#111" stroke-width="1.6"/>
<text x="278.3" y="784.4" font-size="12.9" font-weight="bold" text-anchor="middle" fill="#111">+ OBO</text>
<text transform="translate(26.3,675.8) rotate(-90)" font-size="13.4" font-weight="bold" text-anchor="middle" fill="#111">Young's Modulus [MPa]</text>
<path d="M74,670.4 H133.5" stroke="#111" stroke-width="1.8"/>
<path d="M160.9,691.2 H220.6" stroke="#111" stroke-width="1.8"/>
<path d="M248.3,689.1 H307.7" stroke="#111" stroke-width="1.8"/>
<circle cx="98.6" cy="656.2" r="3.6" fill="#111"/>
<circle cx="108.9" cy="666" r="3.6" fill="#111"/>
<circle cx="108.9" cy="674.6" r="3.6" fill="#111"/>
<circle cx="98.6" cy="683.9" r="3.6" fill="#111"/>
<circle cx="185.7" cy="677.8" r="3.6" fill="#111"/>
<circle cx="196.5" cy="686.5" r="3.6" fill="#111"/>
<circle cx="196.5" cy="698.2" r="3.6" fill="#111"/>
<circle cx="185.7" cy="702.1" r="3.6" fill="#111"/>
<circle cx="278" cy="669" r="3.6" fill="#111"/>
<circle cx="267.1" cy="695.1" r="3.6" fill="#111"/>
<circle cx="278" cy="697.4" r="3.6" fill="#111"/>
<circle cx="288.3" cy="696.4" r="3.6" fill="#111"/>
<text x="393.3" y="592.6" font-size="18">E</text>
<path d="M446.8,605.8 V765.1 H685.8" stroke="#111" stroke-width="1.8" fill="none"/>
<path d="M442,765.1 H446.8" stroke="#111" stroke-width="1.6"/>
<text x="440.7" y="769.0" font-size="11.3" font-weight="bold" text-anchor="end" fill="#111">0</text>
<path d="M442,736.1 H446.8" stroke="#111" stroke-width="1.6"/>
<text x="440.7" y="740.0" font-size="11.3" font-weight="bold" text-anchor="end" fill="#111">1</text>
<path d="M442,707.1 H446.8" stroke="#111" stroke-width="1.6"/>
<text x="440.7" y="711.0" font-size="11.3" font-weight="bold" text-anchor="end" fill="#111">2</text>
<path d="M442,678.1 H446.8" stroke="#111" stroke-width="1.6"/>
<text x="440.7" y="682.0" font-size="11.3" font-weight="bold" text-anchor="end" fill="#111">3</text>
<path d="M442,649.1 H446.8" stroke="#111" stroke-width="1.6"/>
<text x="440.7" y="653.0" font-size="11.3" font-weight="bold" text-anchor="end" fill="#111">4</text>
<path d="M442,620.1 H446.8" stroke="#111" stroke-width="1.6"/>
<text x="440.7" y="624.0" font-size="11.3" font-weight="bold" text-anchor="end" fill="#111">5</text>
<path d="M446.6,765.1 V769.6" stroke="#111" stroke-width="1.6"/>
<text x="446.6" y="782.2" font-size="11.3" font-weight="bold" text-anchor="middle" fill="#111">0</text>
<path d="M494.4,765.1 V769.6" stroke="#111" stroke-width="1.6"/>
<text x="494.4" y="782.2" font-size="11.3" font-weight="bold" text-anchor="middle" fill="#111">20</text>
<path d="M542.2,765.1 V769.6" stroke="#111" stroke-width="1.6"/>
<text x="542.2" y="782.2" font-size="11.3" font-weight="bold" text-anchor="middle" fill="#111">40</text>
<path d="M590.0,765.1 V769.6" stroke="#111" stroke-width="1.6"/>
<text x="590.0" y="782.2" font-size="11.3" font-weight="bold" text-anchor="middle" fill="#111">60</text>
<path d="M637.8,765.1 V769.6" stroke="#111" stroke-width="1.6"/>
<text x="637.8" y="782.2" font-size="11.3" font-weight="bold" text-anchor="middle" fill="#111">80</text>
<path d="M685.6,765.1 V769.6" stroke="#111" stroke-width="1.6"/>
<text x="685.6" y="782.2" font-size="11.3" font-weight="bold" text-anchor="middle" fill="#111">100</text>
<text x="566" y="799.4" font-size="12.9" font-weight="bold" text-anchor="middle" fill="#111">Strain [% ]</text>
<text transform="translate(427.2,685.8) rotate(-90)" font-size="13" font-weight="bold" text-anchor="middle" fill="#111">Engineering stress [MPa]</text>
<path d="M494.4,746.3 C496.5,745.2 502.9,741.7 507.2,739.7 C511.5,737.7 516.1,735.8 520.0,734.1 C523.9,732.4 528.4,730.6 530.8,729.5 C533.2,728.4 532.2,728.8 534.4,727.3 C536.5,725.8 541.2,722.5 543.7,720.8 C546.2,719.1 547.5,718.2 549.5,717.2 C551.5,716.2 553.6,716.4 555.9,715.1 C558.2,713.8 560.4,711.1 563.1,709.3 C565.8,707.5 569.7,706.1 572.2,704.5 C574.7,702.9 576.1,700.7 577.9,699.5 C579.7,698.3 581.3,698.3 583.0,697.3 C584.7,696.3 586.5,695.1 588.0,693.7 C589.5,692.3 590.8,690.2 592.3,688.7 C593.8,687.2 595.6,685.6 597.3,684.4 C599.0,683.2 600.6,682.7 602.4,681.5 C604.2,680.3 606.0,678.6 608.1,677.2 C610.2,675.8 612.0,675.0 615.0,672.9 C618.0,670.8 622.4,667.2 625.9,664.5 C629.4,661.8 633.0,659.1 636.2,656.7 C639.4,654.3 642.3,652.7 645.3,650.3 C648.3,647.9 651.5,645.0 654.3,642.5 C657.1,640.0 659.1,637.9 662.1,635.4 C665.1,632.9 669.8,629.6 672.4,627.6 C675.0,625.6 675.5,624.9 677.6,623.1 C679.8,621.3 684.0,617.9 685.3,616.9" stroke="#111" stroke-width="1.9" fill="none"/>
<path d="M446.6,765 L463,759.2 L476.8,754 L494.6,746.6" stroke="#ff1010" stroke-width="1.9" fill="none"/>
</svg>
</body></html>
